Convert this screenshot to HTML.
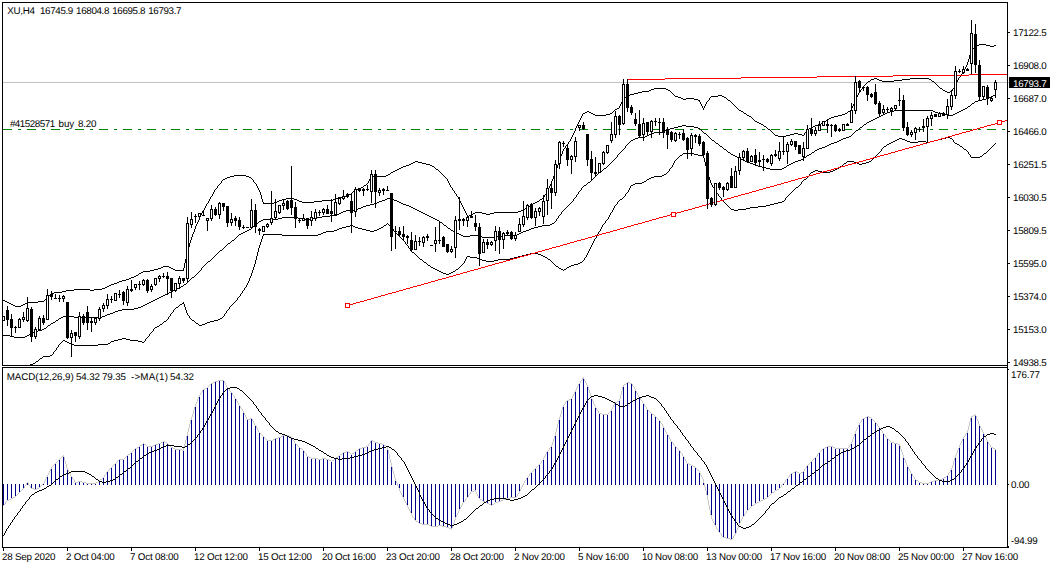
<!DOCTYPE html>
<html><head><meta charset="utf-8"><title>XU,H4</title>
<style>
html,body{margin:0;padding:0;background:#fff;}
body{width:1053px;height:568px;position:relative;overflow:hidden;font-family:"Liberation Sans",sans-serif;}
.t{position:absolute;font-size:9.8px;line-height:11px;height:11px;white-space:nowrap;color:#000;letter-spacing:-0.2px;text-rendering:geometricPrecision;}
</style></head><body>
<svg width="1053" height="568" viewBox="0 0 1053 568" shape-rendering="crispEdges" style="position:absolute;left:0;top:0">
<defs><clipPath id="cm"><rect x="3" y="3" width="1004" height="362"/></clipPath><clipPath id="cs"><rect x="3" y="368" width="1004" height="179"/></clipPath></defs>
<g clip-path="url(#cm)">
<rect x="3" y="82" width="1006" height="1" fill="#c0c0c0"/>
<path d="M3 129.5H1007" stroke="#008000" stroke-width="1" stroke-dasharray="9 6 3 6" fill="none"/>
<path d="M979 44h7v1h-7zM977 45h2v1h-2zM986 45h4v1h-4zM994 45h2v1h-2zM975 46h2v1h-2zM990 46h4v1h-4zM974 47h1v1h-1zM973 48h1v1h-1zM972 49h1v1h-1zM971 50h1v2h-1zM970 52h1v3h-1zM969 55h1v4h-1zM968 59h1v3h-1zM967 62h1v3h-1zM966 65h1v2h-1zM965 67h1v2h-1zM964 69h1v2h-1zM963 71h1v2h-1zM962 73h1v1h-1zM961 74h1v2h-1zM960 76h1v1h-1zM959 77h1v1h-1zM874 78h3v1h-3zM910 78h19v1h-19zM958 78h1v2h-1zM871 79h3v1h-3zM877 79h2v1h-2zM902 79h8v1h-8zM929 79h2v1h-2zM870 80h1v1h-1zM879 80h3v1h-3zM894 80h8v1h-8zM931 80h1v1h-1zM957 80h1v2h-1zM868 81h2v1h-2zM882 81h12v1h-12zM932 81h2v1h-2zM867 82h1v1h-1zM934 82h1v1h-1zM956 82h1v2h-1zM866 83h1v1h-1zM935 83h1v1h-1zM865 84h1v1h-1zM936 84h1v1h-1zM955 84h1v2h-1zM864 85h1v1h-1zM937 85h1v1h-1zM863 86h1v1h-1zM938 86h1v1h-1zM954 86h1v2h-1zM939 87h1v1h-1zM862 87h1v2h-1zM654 88h12v1h-12zM940 88h2v1h-2zM953 88h1v1h-1zM651 89h3v1h-3zM666 89h2v1h-2zM861 89h1v1h-1zM942 89h1v1h-1zM952 89h1v2h-1zM649 90h2v1h-2zM668 90h2v1h-2zM943 90h2v1h-2zM860 90h1v2h-1zM642 91h7v1h-7zM670 91h1v1h-1zM945 91h2v1h-2zM950 91h2v1h-2zM638 92h4v1h-4zM671 92h1v1h-1zM859 92h1v1h-1zM947 92h3v1h-3zM634 93h4v1h-4zM672 93h1v1h-1zM858 93h1v2h-1zM630 94h4v1h-4zM673 94h1v1h-1zM627 95h3v1h-3zM674 95h1v1h-1zM718 95h4v1h-4zM857 95h1v2h-1zM626 96h1v1h-1zM675 96h3v1h-3zM711 96h7v1h-7zM722 96h2v1h-2zM625 97h1v1h-1zM678 97h3v1h-3zM710 97h1v1h-1zM724 97h2v1h-2zM856 97h1v2h-1zM624 98h1v1h-1zM681 98h2v1h-2zM686 98h8v1h-8zM726 98h1v1h-1zM709 98h1v2h-1zM623 99h1v1h-1zM683 99h3v1h-3zM694 99h4v1h-4zM727 99h1v1h-1zM855 99h1v3h-1zM698 100h1v1h-1zM708 100h1v1h-1zM728 100h2v1h-2zM622 100h1v2h-1zM699 100h1v2h-1zM707 101h1v1h-1zM730 101h1v1h-1zM731 102h1v1h-1zM621 102h1v2h-1zM700 102h1v2h-1zM706 102h1v2h-1zM854 102h1v2h-1zM732 103h1v1h-1zM733 104h1v1h-1zM620 104h1v2h-1zM701 104h1v2h-1zM705 104h1v2h-1zM853 104h1v2h-1zM734 105h1v1h-1zM735 106h1v1h-1zM619 106h1v2h-1zM702 106h1v2h-1zM704 106h1v2h-1zM852 106h1v2h-1zM736 107h1v1h-1zM617 108h2v1h-2zM737 108h1v1h-1zM703 108h1v2h-1zM851 108h1v2h-1zM615 109h2v1h-2zM738 109h1v1h-1zM614 110h1v1h-1zM739 110h2v1h-2zM850 110h1v1h-1zM587 111h2v1h-2zM613 111h1v1h-1zM741 111h2v1h-2zM848 111h2v1h-2zM585 112h2v1h-2zM589 112h2v1h-2zM612 112h1v1h-1zM743 112h1v1h-1zM847 112h1v1h-1zM583 113h2v1h-2zM591 113h2v1h-2zM610 113h2v1h-2zM744 113h2v1h-2zM845 113h2v1h-2zM593 114h2v1h-2zM606 114h4v1h-4zM746 114h1v1h-1zM842 114h3v1h-3zM582 114h1v2h-1zM595 115h11v1h-11zM747 115h2v1h-2zM838 115h4v1h-4zM749 116h2v1h-2zM834 116h4v1h-4zM581 116h1v2h-1zM751 117h1v1h-1zM831 117h3v1h-3zM752 118h1v1h-1zM829 118h2v1h-2zM580 118h1v2h-1zM753 119h1v1h-1zM827 119h2v1h-2zM754 120h1v1h-1zM826 120h1v1h-1zM579 120h1v2h-1zM755 121h2v1h-2zM824 121h2v1h-2zM757 122h2v1h-2zM823 122h1v1h-1zM578 122h1v2h-1zM759 123h2v1h-2zM821 123h2v1h-2zM761 124h2v1h-2zM818 124h3v1h-3zM577 124h1v2h-1zM763 125h1v1h-1zM815 125h3v1h-3zM764 126h2v1h-2zM813 126h2v1h-2zM576 126h1v2h-1zM766 127h1v1h-1zM811 127h2v1h-2zM767 128h1v1h-1zM809 128h2v1h-2zM575 128h1v3h-1zM768 129h2v1h-2zM807 129h2v1h-2zM770 130h1v1h-1zM806 130h1v2h-1zM771 131h1v1h-1zM574 131h1v2h-1zM772 132h1v1h-1zM805 132h1v1h-1zM773 133h1v1h-1zM794 133h4v1h-4zM573 133h1v2h-1zM804 133h1v2h-1zM774 134h1v1h-1zM790 134h4v1h-4zM798 134h4v1h-4zM775 135h3v1h-3zM786 135h4v1h-4zM802 135h2v1h-2zM572 135h1v2h-1zM778 136h8v1h-8zM571 137h1v2h-1zM570 139h1v2h-1zM569 141h1v1h-1zM568 142h1v2h-1zM567 144h1v1h-1zM566 145h1v1h-1zM565 146h1v2h-1zM564 148h1v1h-1zM563 149h1v2h-1zM562 151h1v3h-1zM561 154h1v2h-1zM560 156h1v3h-1zM559 159h1v3h-1zM415 161h3v1h-3zM413 162h2v1h-2zM418 162h4v1h-4zM558 162h1v3h-1zM411 163h2v1h-2zM422 163h4v1h-4zM409 164h2v1h-2zM426 164h4v1h-4zM406 165h3v1h-3zM430 165h2v1h-2zM557 165h1v3h-1zM403 166h3v1h-3zM432 166h2v1h-2zM401 167h2v1h-2zM434 167h1v1h-1zM399 168h2v1h-2zM435 168h1v1h-1zM556 168h1v3h-1zM397 169h2v1h-2zM436 169h2v1h-2zM395 170h2v1h-2zM438 170h1v1h-1zM393 171h2v1h-2zM439 171h1v1h-1zM555 171h1v3h-1zM391 172h2v1h-2zM440 172h1v1h-1zM390 173h1v1h-1zM441 173h1v1h-1zM388 174h2v1h-2zM442 174h1v1h-1zM554 174h1v2h-1zM234 175h12v1h-12zM386 175h2v1h-2zM443 175h1v1h-1zM230 176h4v1h-4zM246 176h3v1h-3zM371 176h15v1h-15zM444 176h1v1h-1zM553 176h1v3h-1zM227 177h3v1h-3zM249 177h2v1h-2zM445 177h1v1h-1zM370 177h1v2h-1zM225 178h2v1h-2zM251 178h1v1h-1zM446 178h1v1h-1zM223 179h2v1h-2zM252 179h1v1h-1zM369 179h1v2h-1zM447 179h1v2h-1zM552 179h1v2h-1zM222 180h1v1h-1zM253 180h1v2h-1zM221 181h1v2h-1zM368 181h1v2h-1zM448 181h1v2h-1zM551 181h1v3h-1zM254 182h1v1h-1zM220 183h1v1h-1zM255 183h1v1h-1zM367 183h1v1h-1zM449 183h1v2h-1zM219 184h1v1h-1zM366 184h1v1h-1zM256 184h1v2h-1zM550 184h1v2h-1zM218 185h1v1h-1zM364 185h2v1h-2zM450 185h1v2h-1zM363 186h1v1h-1zM217 186h1v2h-1zM257 186h1v2h-1zM549 186h1v2h-1zM361 187h2v1h-2zM451 187h1v1h-1zM216 188h1v1h-1zM358 188h3v1h-3zM258 188h1v2h-1zM452 188h1v2h-1zM548 188h1v2h-1zM215 189h1v1h-1zM355 189h3v1h-3zM354 190h1v1h-1zM453 190h1v1h-1zM214 190h1v2h-1zM259 190h1v2h-1zM547 190h1v2h-1zM353 191h1v1h-1zM454 191h1v2h-1zM352 192h1v1h-1zM213 192h1v2h-1zM546 192h1v2h-1zM260 192h1v3h-1zM351 193h1v1h-1zM455 193h1v1h-1zM349 194h2v1h-2zM545 194h1v1h-1zM212 194h1v2h-1zM456 194h1v2h-1zM346 195h3v1h-3zM544 195h1v2h-1zM261 195h1v4h-1zM211 196h1v1h-1zM342 196h4v1h-4zM457 196h1v1h-1zM338 197h4v1h-4zM543 197h1v1h-1zM210 197h1v2h-1zM458 197h1v2h-1zM286 198h8v1h-8zM335 198h3v1h-3zM542 198h1v1h-1zM282 199h4v1h-4zM294 199h3v1h-3zM333 199h2v1h-2zM540 199h2v1h-2zM209 199h1v2h-1zM459 199h1v2h-1zM262 199h1v3h-1zM279 200h3v1h-3zM297 200h2v1h-2zM322 200h11v1h-11zM539 200h1v1h-1zM277 201h2v1h-2zM299 201h3v1h-3zM314 201h8v1h-8zM537 201h2v1h-2zM208 201h1v2h-1zM460 201h1v2h-1zM274 202h3v1h-3zM302 202h12v1h-12zM535 202h2v1h-2zM263 202h1v2h-1zM207 203h1v1h-1zM264 203h10v1h-10zM533 203h2v1h-2zM461 203h1v2h-1zM531 204h2v1h-2zM206 204h1v2h-1zM530 205h1v1h-1zM462 205h1v2h-1zM528 206h2v1h-2zM205 206h1v2h-1zM527 207h1v1h-1zM463 207h1v2h-1zM525 208h2v1h-2zM204 208h1v2h-1zM523 209h2v1h-2zM464 209h1v2h-1zM203 210h1v1h-1zM521 210h2v1h-2zM518 211h3v1h-3zM202 211h1v2h-1zM465 211h1v2h-1zM475 212h7v1h-7zM494 212h24v1h-24zM473 213h2v1h-2zM482 213h4v1h-4zM490 213h4v1h-4zM201 213h1v2h-1zM466 213h1v2h-1zM471 214h2v1h-2zM486 214h4v1h-4zM469 215h2v1h-2zM200 215h1v2h-1zM467 215h1v2h-1zM468 216h1v1h-1zM199 217h1v3h-1zM198 220h1v2h-1zM197 222h1v2h-1zM196 224h1v2h-1zM195 226h1v3h-1zM194 229h1v3h-1zM193 232h1v2h-1zM192 234h1v3h-1zM191 237h1v3h-1zM190 240h1v3h-1zM189 243h1v4h-1zM188 247h1v3h-1zM187 250h1v4h-1zM186 254h1v5h-1zM185 259h1v4h-1zM184 263h1v5h-1zM163 266h6v1h-6zM161 267h2v1h-2zM169 267h2v1h-2zM158 268h3v1h-3zM171 268h2v1h-2zM183 268h1v3h-1zM154 269h4v1h-4zM173 269h2v1h-2zM150 270h4v1h-4zM175 270h8v1h-8zM143 271h7v1h-7zM141 272h2v1h-2zM139 273h2v1h-2zM138 274h1v1h-1zM136 275h2v1h-2zM134 276h2v1h-2zM131 277h3v1h-3zM129 278h2v1h-2zM126 279h3v1h-3zM122 280h4v1h-4zM119 281h3v1h-3zM117 282h2v1h-2zM114 283h3v1h-3zM111 284h3v1h-3zM109 285h2v1h-2zM107 286h2v1h-2zM105 287h2v1h-2zM102 288h3v1h-3zM74 289h16v1h-16zM94 289h8v1h-8zM66 290h8v1h-8zM90 290h4v1h-4zM62 291h4v1h-4zM54 292h8v1h-8zM51 293h3v1h-3zM50 294h1v1h-1zM49 295h1v1h-1zM48 296h1v1h-1zM47 297h1v1h-1zM46 298h1v1h-1zM45 299h1v1h-1zM-1 300h6v1h-6zM44 300h1v1h-1zM5 301h2v1h-2zM38 301h6v1h-6zM7 302h2v1h-2zM27 302h11v1h-11zM9 303h2v1h-2zM25 303h2v1h-2zM11 304h2v1h-2zM23 304h2v1h-2zM13 305h2v1h-2zM21 305h2v1h-2zM15 306h6v1h-6z" fill="#000"/>
<path d="M995 94h1v1h-1zM993 95h2v1h-2zM991 96h2v1h-2zM989 97h2v1h-2zM986 98h3v1h-3zM982 99h4v1h-4zM978 100h4v1h-4zM975 101h3v1h-3zM974 102h1v1h-1zM972 103h2v1h-2zM971 104h1v1h-1zM970 105h1v1h-1zM968 106h2v1h-2zM967 107h1v1h-1zM965 108h2v1h-2zM963 109h2v1h-2zM894 110h39v1h-39zM961 110h2v1h-2zM890 111h4v1h-4zM933 111h2v1h-2zM959 111h2v1h-2zM887 112h3v1h-3zM935 112h3v1h-3zM957 112h2v1h-2zM885 113h2v1h-2zM938 113h7v1h-7zM955 113h2v1h-2zM883 114h2v1h-2zM945 114h2v1h-2zM953 114h2v1h-2zM881 115h2v1h-2zM947 115h6v1h-6zM879 116h2v1h-2zM877 117h2v1h-2zM875 118h2v1h-2zM873 119h2v1h-2zM871 120h2v1h-2zM869 121h2v1h-2zM867 122h2v1h-2zM866 123h1v1h-1zM864 124h2v1h-2zM682 125h4v1h-4zM863 125h1v1h-1zM678 126h4v1h-4zM686 126h8v1h-8zM862 126h1v1h-1zM674 127h4v1h-4zM694 127h4v1h-4zM860 127h2v1h-2zM670 128h4v1h-4zM698 128h2v1h-2zM859 128h1v1h-1zM667 129h3v1h-3zM700 129h1v1h-1zM858 129h1v1h-1zM665 130h2v1h-2zM701 130h1v1h-1zM856 130h2v1h-2zM662 131h3v1h-3zM702 131h1v1h-1zM855 131h1v1h-1zM654 132h8v1h-8zM703 132h1v1h-1zM854 132h1v1h-1zM651 133h3v1h-3zM704 133h2v1h-2zM853 133h1v1h-1zM649 134h2v1h-2zM706 134h1v1h-1zM852 134h1v1h-1zM647 135h2v1h-2zM707 135h1v1h-1zM851 135h1v1h-1zM645 136h2v1h-2zM708 136h1v1h-1zM849 136h2v1h-2zM638 137h7v1h-7zM709 137h1v1h-1zM846 137h3v1h-3zM635 138h3v1h-3zM710 138h1v1h-1zM843 138h3v1h-3zM633 139h2v1h-2zM711 139h1v1h-1zM841 139h2v1h-2zM631 140h2v1h-2zM712 140h2v1h-2zM839 140h2v1h-2zM630 141h1v1h-1zM714 141h1v1h-1zM837 141h2v1h-2zM629 142h1v1h-1zM715 142h1v1h-1zM834 142h3v1h-3zM628 143h1v1h-1zM716 143h2v1h-2zM831 143h3v1h-3zM627 144h1v1h-1zM718 144h1v1h-1zM829 144h2v1h-2zM626 145h1v1h-1zM719 145h1v1h-1zM827 145h2v1h-2zM720 146h2v1h-2zM825 146h2v1h-2zM625 146h1v2h-1zM722 147h1v1h-1zM822 147h3v1h-3zM624 148h1v1h-1zM723 148h1v1h-1zM819 148h3v1h-3zM623 149h1v1h-1zM724 149h2v1h-2zM817 149h2v1h-2zM622 150h1v1h-1zM726 150h1v1h-1zM815 150h2v1h-2zM621 151h1v1h-1zM727 151h1v1h-1zM814 151h1v1h-1zM620 152h1v1h-1zM728 152h2v1h-2zM812 152h2v1h-2zM619 153h1v1h-1zM730 153h1v1h-1zM811 153h1v1h-1zM618 154h1v1h-1zM731 154h2v1h-2zM809 154h2v1h-2zM733 155h2v1h-2zM807 155h2v1h-2zM617 155h1v2h-1zM735 156h2v1h-2zM806 156h1v1h-1zM616 157h1v1h-1zM737 157h2v1h-2zM804 157h2v1h-2zM615 158h1v1h-1zM739 158h2v1h-2zM803 158h1v1h-1zM614 159h1v1h-1zM741 159h2v1h-2zM801 159h2v1h-2zM613 160h1v1h-1zM743 160h2v1h-2zM798 160h3v1h-3zM612 161h1v1h-1zM745 161h2v1h-2zM795 161h3v1h-3zM611 162h1v1h-1zM747 162h3v1h-3zM793 162h2v1h-2zM610 163h1v1h-1zM750 163h3v1h-3zM791 163h2v1h-2zM609 164h1v1h-1zM753 164h2v1h-2zM789 164h2v1h-2zM608 165h1v1h-1zM755 165h3v1h-3zM787 165h2v1h-2zM607 166h1v1h-1zM758 166h4v1h-4zM786 166h1v1h-1zM606 167h1v1h-1zM762 167h4v1h-4zM784 167h2v1h-2zM604 168h2v1h-2zM766 168h4v1h-4zM782 168h2v1h-2zM603 169h1v1h-1zM770 169h12v1h-12zM602 170h1v1h-1zM600 171h2v1h-2zM599 172h1v1h-1zM598 173h1v1h-1zM597 174h1v1h-1zM596 175h1v1h-1zM595 176h1v1h-1zM594 177h1v1h-1zM593 178h1v1h-1zM592 179h1v1h-1zM591 180h1v1h-1zM590 181h1v1h-1zM588 182h2v1h-2zM587 183h1v1h-1zM586 184h1v1h-1zM584 185h2v1h-2zM583 186h1v1h-1zM582 187h1v1h-1zM581 188h1v2h-1zM580 190h1v1h-1zM579 191h1v1h-1zM578 192h1v2h-1zM577 194h1v1h-1zM576 195h1v2h-1zM575 197h1v1h-1zM387 198h3v1h-3zM574 198h1v1h-1zM385 199h2v1h-2zM390 199h4v1h-4zM573 199h1v2h-1zM382 200h3v1h-3zM394 200h3v1h-3zM379 201h3v1h-3zM397 201h2v1h-2zM572 201h1v1h-1zM377 202h2v1h-2zM399 202h2v1h-2zM571 202h1v1h-1zM374 203h3v1h-3zM401 203h2v1h-2zM570 203h1v1h-1zM370 204h4v1h-4zM403 204h3v1h-3zM569 204h1v1h-1zM366 205h4v1h-4zM406 205h3v1h-3zM568 205h1v1h-1zM363 206h3v1h-3zM409 206h2v1h-2zM567 206h1v1h-1zM361 207h2v1h-2zM411 207h2v1h-2zM566 207h1v1h-1zM358 208h3v1h-3zM413 208h2v1h-2zM565 208h1v1h-1zM354 209h4v1h-4zM415 209h2v1h-2zM564 209h1v1h-1zM346 210h8v1h-8zM417 210h2v1h-2zM563 210h1v1h-1zM343 211h3v1h-3zM419 211h2v1h-2zM562 211h1v1h-1zM341 212h2v1h-2zM421 212h2v1h-2zM561 212h1v2h-1zM339 213h2v1h-2zM423 213h2v1h-2zM337 214h2v1h-2zM425 214h2v1h-2zM560 214h1v1h-1zM330 215h7v1h-7zM427 215h2v1h-2zM559 215h1v1h-1zM322 216h8v1h-8zM429 216h2v1h-2zM558 216h1v2h-1zM282 217h16v1h-16zM314 217h8v1h-8zM431 217h2v1h-2zM278 218h4v1h-4zM298 218h4v1h-4zM310 218h4v1h-4zM433 218h2v1h-2zM557 218h1v1h-1zM263 219h15v1h-15zM302 219h8v1h-8zM435 219h2v1h-2zM556 219h1v2h-1zM261 220h2v1h-2zM437 220h2v1h-2zM259 221h2v1h-2zM439 221h1v1h-1zM555 221h1v1h-1zM258 222h1v1h-1zM440 222h2v1h-2zM554 222h1v1h-1zM256 223h2v1h-2zM442 223h1v1h-1zM552 223h2v1h-2zM255 224h1v1h-1zM443 224h1v1h-1zM550 224h2v1h-2zM254 225h1v1h-1zM444 225h2v1h-2zM542 225h8v1h-8zM253 226h1v1h-1zM446 226h1v1h-1zM538 226h4v1h-4zM252 227h1v1h-1zM447 227h1v1h-1zM534 227h4v1h-4zM251 228h1v1h-1zM448 228h2v1h-2zM531 228h3v1h-3zM249 229h2v1h-2zM450 229h1v1h-1zM529 229h2v1h-2zM247 230h2v1h-2zM451 230h2v1h-2zM526 230h3v1h-3zM245 231h2v1h-2zM453 231h2v1h-2zM523 231h3v1h-3zM243 232h2v1h-2zM455 232h2v1h-2zM521 232h2v1h-2zM241 233h2v1h-2zM457 233h2v1h-2zM519 233h2v1h-2zM239 234h2v1h-2zM459 234h2v1h-2zM517 234h2v1h-2zM238 235h1v1h-1zM461 235h2v1h-2zM470 235h8v1h-8zM502 235h15v1h-15zM237 236h1v1h-1zM463 236h7v1h-7zM478 236h4v1h-4zM494 236h8v1h-8zM236 237h1v1h-1zM482 237h12v1h-12zM235 238h1v1h-1zM234 239h1v1h-1zM232 240h2v1h-2zM231 241h1v1h-1zM230 242h1v1h-1zM228 243h2v1h-2zM227 244h1v1h-1zM226 245h1v1h-1zM225 246h1v1h-1zM224 247h1v1h-1zM223 248h1v1h-1zM222 249h1v1h-1zM220 250h2v1h-2zM219 251h1v1h-1zM218 252h1v1h-1zM217 253h1v1h-1zM216 254h1v1h-1zM215 255h1v1h-1zM214 256h1v1h-1zM213 257h1v1h-1zM212 258h1v1h-1zM211 259h1v1h-1zM210 260h1v1h-1zM208 261h2v1h-2zM207 262h1v1h-1zM206 263h1v1h-1zM205 264h1v1h-1zM204 265h1v1h-1zM203 266h1v1h-1zM202 267h1v1h-1zM201 268h1v2h-1zM200 270h1v1h-1zM199 271h1v1h-1zM198 272h1v1h-1zM197 273h1v1h-1zM196 274h1v1h-1zM195 275h1v1h-1zM194 276h1v1h-1zM192 277h2v1h-2zM191 278h1v1h-1zM190 279h1v1h-1zM189 280h1v1h-1zM188 281h1v1h-1zM187 282h1v1h-1zM186 283h1v1h-1zM184 284h2v1h-2zM183 285h1v1h-1zM181 286h2v1h-2zM179 287h2v1h-2zM177 288h2v1h-2zM175 289h2v1h-2zM173 290h2v1h-2zM171 291h2v1h-2zM169 292h2v1h-2zM167 293h2v1h-2zM165 294h2v1h-2zM163 295h2v1h-2zM161 296h2v1h-2zM159 297h2v1h-2zM157 298h2v1h-2zM155 299h2v1h-2zM153 300h2v1h-2zM151 301h2v1h-2zM149 302h2v1h-2zM147 303h2v1h-2zM145 304h2v1h-2zM143 305h2v1h-2zM141 306h2v1h-2zM138 307h3v1h-3zM134 308h4v1h-4zM122 309h12v1h-12zM118 310h4v1h-4zM115 311h3v1h-3zM113 312h2v1h-2zM110 313h3v1h-3zM107 314h3v1h-3zM105 315h2v1h-2zM63 316h11v1h-11zM102 316h3v1h-3zM61 317h2v1h-2zM74 317h28v1h-28zM59 318h2v1h-2zM58 319h1v1h-1zM56 320h2v1h-2zM55 321h1v1h-1zM53 322h2v1h-2zM51 323h2v1h-2zM50 324h1v1h-1zM48 325h2v1h-2zM47 326h1v1h-1zM46 327h1v1h-1zM44 328h2v1h-2zM42 329h2v1h-2zM38 330h4v1h-4zM35 331h3v1h-3zM33 332h2v1h-2zM31 333h2v1h-2zM29 334h2v1h-2zM-1 335h11v1h-11zM27 335h2v1h-2zM10 336h4v1h-4zM25 336h2v1h-2zM14 337h11v1h-11z" fill="#000"/>
<path d="M946 137h4v1h-4zM899 138h3v1h-3zM942 138h4v1h-4zM950 138h2v1h-2zM897 139h2v1h-2zM902 139h3v1h-3zM938 139h4v1h-4zM952 139h1v1h-1zM895 140h2v1h-2zM905 140h2v1h-2zM934 140h4v1h-4zM953 140h1v2h-1zM893 141h2v1h-2zM907 141h3v1h-3zM918 141h8v1h-8zM930 141h4v1h-4zM891 142h2v1h-2zM910 142h8v1h-8zM926 142h4v1h-4zM954 142h1v1h-1zM889 143h2v1h-2zM955 143h2v1h-2zM995 143h1v1h-1zM887 144h2v1h-2zM957 144h2v1h-2zM994 144h1v1h-1zM886 145h1v1h-1zM959 145h1v1h-1zM993 145h1v1h-1zM884 146h2v1h-2zM960 146h2v1h-2zM992 146h1v1h-1zM883 147h1v1h-1zM962 147h1v1h-1zM991 147h1v1h-1zM882 148h1v1h-1zM963 148h1v1h-1zM990 148h1v1h-1zM964 149h2v1h-2zM989 149h1v1h-1zM881 149h1v2h-1zM966 150h1v1h-1zM988 150h1v1h-1zM880 151h1v1h-1zM967 151h1v1h-1zM987 151h1v1h-1zM879 152h1v1h-1zM986 152h1v1h-1zM968 152h1v2h-1zM683 153h11v1h-11zM878 153h1v1h-1zM984 153h2v1h-2zM682 154h1v1h-1zM694 154h4v1h-4zM877 154h1v1h-1zM969 154h1v1h-1zM983 154h1v1h-1zM680 155h2v1h-2zM698 155h5v1h-5zM876 155h1v1h-1zM982 155h1v1h-1zM970 155h1v2h-1zM703 155h1v3h-1zM679 156h1v1h-1zM875 156h1v1h-1zM980 156h2v1h-2zM678 157h1v1h-1zM874 157h1v1h-1zM971 157h9v1h-9zM677 158h1v1h-1zM873 158h1v1h-1zM704 158h1v4h-1zM676 159h1v1h-1zM872 159h1v1h-1zM675 160h1v1h-1zM871 160h1v1h-1zM847 161h7v1h-7zM869 161h2v1h-2zM674 161h1v2h-1zM846 162h1v1h-1zM854 162h3v1h-3zM866 162h3v1h-3zM705 162h1v4h-1zM844 163h2v1h-2zM857 163h2v1h-2zM862 163h4v1h-4zM673 163h1v2h-1zM843 164h1v1h-1zM859 164h3v1h-3zM842 165h1v1h-1zM672 165h1v2h-1zM840 166h2v1h-2zM706 166h1v4h-1zM671 167h1v1h-1zM839 167h1v1h-1zM670 168h1v1h-1zM837 168h2v1h-2zM835 169h2v1h-2zM669 169h1v2h-1zM815 170h3v1h-3zM833 170h2v1h-2zM707 170h1v4h-1zM668 171h1v1h-1zM813 171h2v1h-2zM818 171h4v1h-4zM830 171h3v1h-3zM667 172h1v1h-1zM811 172h2v1h-2zM822 172h8v1h-8zM666 173h1v1h-1zM810 173h1v1h-1zM664 174h2v1h-2zM809 174h1v2h-1zM708 174h1v3h-1zM662 175h2v1h-2zM654 176h8v1h-8zM808 176h1v1h-1zM651 177h3v1h-3zM807 177h1v1h-1zM709 177h1v3h-1zM649 178h2v1h-2zM806 178h1v1h-1zM647 179h2v1h-2zM804 179h2v1h-2zM646 180h1v1h-1zM803 180h1v1h-1zM710 180h1v3h-1zM644 181h2v1h-2zM802 181h1v1h-1zM642 182h2v1h-2zM801 182h1v2h-1zM635 183h7v1h-7zM711 183h1v2h-1zM633 184h2v1h-2zM800 184h1v1h-1zM631 185h2v1h-2zM799 185h1v1h-1zM712 185h1v2h-1zM798 186h1v1h-1zM630 186h1v2h-1zM713 187h1v1h-1zM796 187h2v1h-2zM795 188h1v1h-1zM629 188h1v2h-1zM714 188h1v2h-1zM794 189h1v1h-1zM715 190h1v1h-1zM793 190h1v1h-1zM628 190h1v2h-1zM792 191h1v1h-1zM716 191h1v2h-1zM627 192h1v1h-1zM791 192h1v1h-1zM626 193h1v1h-1zM717 193h1v1h-1zM790 193h1v1h-1zM789 194h1v1h-1zM625 194h1v2h-1zM718 194h1v2h-1zM788 195h1v1h-1zM624 196h1v1h-1zM719 196h1v1h-1zM787 196h1v1h-1zM623 197h1v1h-1zM720 197h1v1h-1zM786 197h1v1h-1zM622 198h1v1h-1zM721 198h1v2h-1zM785 198h1v2h-1zM620 199h2v1h-2zM619 200h1v1h-1zM722 200h1v1h-1zM784 200h1v1h-1zM618 201h1v1h-1zM723 201h1v1h-1zM782 201h2v1h-2zM724 202h1v1h-1zM778 202h4v1h-4zM617 202h1v2h-1zM725 203h1v1h-1zM774 203h4v1h-4zM616 204h1v1h-1zM726 204h1v1h-1zM770 204h4v1h-4zM615 205h1v1h-1zM727 205h1v1h-1zM766 205h4v1h-4zM728 206h1v1h-1zM758 206h8v1h-8zM614 206h1v2h-1zM729 207h1v1h-1zM750 207h8v1h-8zM730 208h1v1h-1zM746 208h4v1h-4zM613 208h1v2h-1zM731 209h3v1h-3zM738 209h8v1h-8zM734 210h4v1h-4zM612 210h1v2h-1zM611 212h1v1h-1zM610 213h1v2h-1zM609 215h1v2h-1zM608 217h1v2h-1zM607 219h1v1h-1zM606 220h1v1h-1zM605 221h1v2h-1zM387 223h1v1h-1zM604 223h1v1h-1zM386 224h1v1h-1zM388 224h1v1h-1zM603 224h1v1h-1zM350 225h3v1h-3zM384 225h2v1h-2zM389 225h1v1h-1zM602 225h1v2h-1zM346 226h4v1h-4zM353 226h2v1h-2zM383 226h1v1h-1zM390 226h1v1h-1zM342 227h4v1h-4zM355 227h3v1h-3zM381 227h2v1h-2zM391 227h1v1h-1zM601 227h1v2h-1zM339 228h3v1h-3zM358 228h4v1h-4zM379 228h2v1h-2zM392 228h1v1h-1zM337 229h2v1h-2zM362 229h4v1h-4zM377 229h2v1h-2zM393 229h1v2h-1zM600 229h1v2h-1zM334 230h3v1h-3zM366 230h4v1h-4zM374 230h3v1h-3zM326 231h8v1h-8zM370 231h4v1h-4zM394 231h1v1h-1zM599 231h1v1h-1zM323 232h3v1h-3zM395 232h1v1h-1zM598 232h1v2h-1zM321 233h2v1h-2zM396 233h1v1h-1zM264 234h18v1h-18zM318 234h3v1h-3zM397 234h1v1h-1zM263 234h1v2h-1zM597 234h1v2h-1zM282 235h36v1h-36zM398 235h1v1h-1zM399 236h1v1h-1zM596 236h1v2h-1zM262 236h1v3h-1zM400 237h1v1h-1zM401 238h1v1h-1zM595 238h1v1h-1zM402 239h1v1h-1zM594 239h1v2h-1zM261 239h1v3h-1zM403 240h1v1h-1zM404 241h1v1h-1zM593 241h1v2h-1zM405 242h1v2h-1zM260 242h1v3h-1zM592 243h1v2h-1zM406 244h1v1h-1zM407 245h1v1h-1zM591 245h1v2h-1zM259 245h1v3h-1zM408 246h1v2h-1zM590 247h1v2h-1zM409 248h1v1h-1zM258 248h1v4h-1zM410 249h1v2h-1zM589 249h1v2h-1zM411 251h1v1h-1zM588 251h1v2h-1zM412 252h2v1h-2zM257 252h1v4h-1zM414 253h1v1h-1zM530 253h8v1h-8zM587 253h1v2h-1zM415 254h1v1h-1zM526 254h4v1h-4zM538 254h3v1h-3zM416 255h1v1h-1zM522 255h4v1h-4zM541 255h2v1h-2zM586 255h1v2h-1zM417 256h1v1h-1zM467 256h3v1h-3zM518 256h4v1h-4zM543 256h2v1h-2zM256 256h1v4h-1zM418 257h1v1h-1zM470 257h7v1h-7zM514 257h4v1h-4zM545 257h2v1h-2zM585 257h1v1h-1zM466 257h1v2h-1zM419 258h1v1h-1zM477 258h2v1h-2zM510 258h4v1h-4zM547 258h1v1h-1zM584 258h1v2h-1zM420 259h2v1h-2zM479 259h3v1h-3zM498 259h12v1h-12zM548 259h2v1h-2zM465 259h1v2h-1zM422 260h1v1h-1zM482 260h4v1h-4zM494 260h4v1h-4zM550 260h1v1h-1zM583 260h1v1h-1zM255 260h1v4h-1zM423 261h1v1h-1zM486 261h8v1h-8zM551 261h1v1h-1zM582 261h1v1h-1zM464 261h1v2h-1zM424 262h2v1h-2zM552 262h1v1h-1zM580 262h2v1h-2zM426 263h1v1h-1zM463 263h1v1h-1zM553 263h1v1h-1zM578 263h2v1h-2zM427 264h1v1h-1zM462 264h1v1h-1zM554 264h1v1h-1zM574 264h4v1h-4zM254 264h1v3h-1zM428 265h2v1h-2zM461 265h1v1h-1zM555 265h1v1h-1zM571 265h3v1h-3zM430 266h1v1h-1zM460 266h1v1h-1zM556 266h2v1h-2zM569 266h2v1h-2zM431 267h2v1h-2zM459 267h1v1h-1zM558 267h1v1h-1zM567 267h2v1h-2zM253 267h1v3h-1zM433 268h2v1h-2zM458 268h1v1h-1zM559 268h2v1h-2zM566 268h1v1h-1zM435 269h2v1h-2zM456 269h2v1h-2zM561 269h2v1h-2zM564 269h2v1h-2zM437 270h2v1h-2zM455 270h1v1h-1zM563 270h1v1h-1zM252 270h1v3h-1zM439 271h2v1h-2zM453 271h2v1h-2zM441 272h2v1h-2zM451 272h2v1h-2zM443 273h3v1h-3zM449 273h2v1h-2zM251 273h1v3h-1zM446 274h3v1h-3zM250 276h1v2h-1zM249 278h1v3h-1zM248 281h1v2h-1zM247 283h1v2h-1zM246 285h1v2h-1zM245 287h1v1h-1zM244 288h1v2h-1zM243 290h1v1h-1zM242 291h1v2h-1zM241 293h1v1h-1zM240 294h1v2h-1zM239 296h1v1h-1zM238 297h1v1h-1zM237 298h1v2h-1zM236 300h1v1h-1zM235 301h1v1h-1zM234 302h1v1h-1zM183 302h1v2h-1zM182 303h1v1h-1zM233 303h1v1h-1zM180 304h2v1h-2zM232 304h1v1h-1zM184 304h1v3h-1zM179 305h1v1h-1zM231 305h1v1h-1zM178 306h1v1h-1zM230 306h1v1h-1zM176 307h2v1h-2zM229 307h1v2h-1zM185 307h1v3h-1zM175 308h1v1h-1zM174 309h1v1h-1zM228 309h1v1h-1zM227 310h1v1h-1zM173 310h1v2h-1zM186 310h1v3h-1zM226 311h1v2h-1zM172 312h1v1h-1zM171 313h1v1h-1zM225 313h1v1h-1zM187 313h1v2h-1zM170 314h1v2h-1zM224 314h1v2h-1zM188 315h1v1h-1zM169 316h1v1h-1zM223 316h1v1h-1zM189 316h1v2h-1zM222 317h1v1h-1zM168 317h1v2h-1zM190 318h1v1h-1zM220 318h2v1h-2zM167 319h1v1h-1zM191 319h1v1h-1zM218 319h2v1h-2zM166 320h1v1h-1zM192 320h2v1h-2zM214 320h4v1h-4zM164 321h2v1h-2zM194 321h1v1h-1zM210 321h4v1h-4zM163 322h1v1h-1zM195 322h1v1h-1zM207 322h3v1h-3zM162 323h1v1h-1zM196 323h2v1h-2zM205 323h2v1h-2zM160 324h2v1h-2zM198 324h1v1h-1zM202 324h3v1h-3zM159 325h1v1h-1zM199 325h3v1h-3zM157 326h2v1h-2zM155 327h2v1h-2zM154 328h1v1h-1zM153 329h1v2h-1zM152 331h1v1h-1zM151 332h1v1h-1zM150 333h1v1h-1zM149 334h1v2h-1zM148 336h1v1h-1zM147 337h1v1h-1zM122 338h4v1h-4zM146 338h1v1h-1zM118 339h4v1h-4zM126 339h4v1h-4zM145 339h1v2h-1zM63 340h2v1h-2zM114 340h4v1h-4zM130 340h8v1h-8zM62 341h1v1h-1zM65 341h2v1h-2zM111 341h3v1h-3zM138 341h4v1h-4zM144 341h1v1h-1zM61 342h1v1h-1zM67 342h2v1h-2zM110 342h1v1h-1zM142 342h2v1h-2zM60 343h1v1h-1zM69 343h2v1h-2zM108 343h2v1h-2zM59 344h1v1h-1zM71 344h3v1h-3zM98 344h10v1h-10zM74 345h24v1h-24zM58 345h1v2h-1zM57 347h1v1h-1zM56 348h1v2h-1zM55 350h1v1h-1zM54 351h1v1h-1zM53 352h1v2h-1zM52 354h1v1h-1zM50 355h2v1h-2zM43 356h7v1h-7zM42 357h1v1h-1zM40 358h2v1h-2zM39 359h1v1h-1zM38 360h1v1h-1zM36 361h2v1h-2zM35 362h1v1h-1zM33 363h2v1h-2zM30 364h3v1h-3zM26 365h4v1h-4zM23 366h3v1h-3zM21 367h2v1h-2zM18 368h3v1h-3zM14 369h4v1h-4zM10 370h4v1h-4zM6 371h4v1h-4zM2 372h4v1h-4zM-1 373h3v1h-3z" fill="#000"/>
<rect x="627" y="79" width="38" height="1" fill="#ff0000"/>
<rect x="665" y="78" width="76" height="1" fill="#ff0000"/>
<rect x="741" y="77" width="76" height="1" fill="#ff0000"/>
<rect x="817" y="76" width="76" height="1" fill="#ff0000"/>
<rect x="893" y="75" width="76" height="1" fill="#ff0000"/>
<rect x="969" y="74" width="38" height="1" fill="#ff0000"/>
<rect x="348" y="305" width="1" height="1" fill="#ff0000"/>
<rect x="349" y="304" width="4" height="1" fill="#ff0000"/>
<rect x="353" y="303" width="3" height="1" fill="#ff0000"/>
<rect x="356" y="302" width="4" height="1" fill="#ff0000"/>
<rect x="360" y="301" width="4" height="1" fill="#ff0000"/>
<rect x="364" y="300" width="3" height="1" fill="#ff0000"/>
<rect x="367" y="299" width="4" height="1" fill="#ff0000"/>
<rect x="371" y="298" width="3" height="1" fill="#ff0000"/>
<rect x="374" y="297" width="4" height="1" fill="#ff0000"/>
<rect x="378" y="296" width="3" height="1" fill="#ff0000"/>
<rect x="381" y="295" width="4" height="1" fill="#ff0000"/>
<rect x="385" y="294" width="3" height="1" fill="#ff0000"/>
<rect x="388" y="293" width="4" height="1" fill="#ff0000"/>
<rect x="392" y="292" width="4" height="1" fill="#ff0000"/>
<rect x="396" y="291" width="3" height="1" fill="#ff0000"/>
<rect x="399" y="290" width="4" height="1" fill="#ff0000"/>
<rect x="403" y="289" width="3" height="1" fill="#ff0000"/>
<rect x="406" y="288" width="4" height="1" fill="#ff0000"/>
<rect x="410" y="287" width="3" height="1" fill="#ff0000"/>
<rect x="413" y="286" width="4" height="1" fill="#ff0000"/>
<rect x="417" y="285" width="4" height="1" fill="#ff0000"/>
<rect x="421" y="284" width="3" height="1" fill="#ff0000"/>
<rect x="424" y="283" width="4" height="1" fill="#ff0000"/>
<rect x="428" y="282" width="3" height="1" fill="#ff0000"/>
<rect x="431" y="281" width="4" height="1" fill="#ff0000"/>
<rect x="435" y="280" width="3" height="1" fill="#ff0000"/>
<rect x="438" y="279" width="4" height="1" fill="#ff0000"/>
<rect x="442" y="278" width="4" height="1" fill="#ff0000"/>
<rect x="446" y="277" width="3" height="1" fill="#ff0000"/>
<rect x="449" y="276" width="4" height="1" fill="#ff0000"/>
<rect x="453" y="275" width="3" height="1" fill="#ff0000"/>
<rect x="456" y="274" width="4" height="1" fill="#ff0000"/>
<rect x="460" y="273" width="3" height="1" fill="#ff0000"/>
<rect x="463" y="272" width="4" height="1" fill="#ff0000"/>
<rect x="467" y="271" width="3" height="1" fill="#ff0000"/>
<rect x="470" y="270" width="4" height="1" fill="#ff0000"/>
<rect x="474" y="269" width="4" height="1" fill="#ff0000"/>
<rect x="478" y="268" width="3" height="1" fill="#ff0000"/>
<rect x="481" y="267" width="4" height="1" fill="#ff0000"/>
<rect x="485" y="266" width="3" height="1" fill="#ff0000"/>
<rect x="488" y="265" width="4" height="1" fill="#ff0000"/>
<rect x="492" y="264" width="3" height="1" fill="#ff0000"/>
<rect x="495" y="263" width="4" height="1" fill="#ff0000"/>
<rect x="499" y="262" width="4" height="1" fill="#ff0000"/>
<rect x="503" y="261" width="3" height="1" fill="#ff0000"/>
<rect x="506" y="260" width="4" height="1" fill="#ff0000"/>
<rect x="510" y="259" width="3" height="1" fill="#ff0000"/>
<rect x="513" y="258" width="4" height="1" fill="#ff0000"/>
<rect x="517" y="257" width="3" height="1" fill="#ff0000"/>
<rect x="520" y="256" width="4" height="1" fill="#ff0000"/>
<rect x="524" y="255" width="4" height="1" fill="#ff0000"/>
<rect x="528" y="254" width="3" height="1" fill="#ff0000"/>
<rect x="531" y="253" width="4" height="1" fill="#ff0000"/>
<rect x="535" y="252" width="3" height="1" fill="#ff0000"/>
<rect x="538" y="251" width="4" height="1" fill="#ff0000"/>
<rect x="542" y="250" width="3" height="1" fill="#ff0000"/>
<rect x="545" y="249" width="4" height="1" fill="#ff0000"/>
<rect x="549" y="248" width="3" height="1" fill="#ff0000"/>
<rect x="552" y="247" width="4" height="1" fill="#ff0000"/>
<rect x="556" y="246" width="4" height="1" fill="#ff0000"/>
<rect x="560" y="245" width="3" height="1" fill="#ff0000"/>
<rect x="563" y="244" width="4" height="1" fill="#ff0000"/>
<rect x="567" y="243" width="3" height="1" fill="#ff0000"/>
<rect x="570" y="242" width="4" height="1" fill="#ff0000"/>
<rect x="574" y="241" width="3" height="1" fill="#ff0000"/>
<rect x="577" y="240" width="4" height="1" fill="#ff0000"/>
<rect x="581" y="239" width="4" height="1" fill="#ff0000"/>
<rect x="585" y="238" width="3" height="1" fill="#ff0000"/>
<rect x="588" y="237" width="4" height="1" fill="#ff0000"/>
<rect x="592" y="236" width="3" height="1" fill="#ff0000"/>
<rect x="595" y="235" width="4" height="1" fill="#ff0000"/>
<rect x="599" y="234" width="3" height="1" fill="#ff0000"/>
<rect x="602" y="233" width="4" height="1" fill="#ff0000"/>
<rect x="606" y="232" width="4" height="1" fill="#ff0000"/>
<rect x="610" y="231" width="3" height="1" fill="#ff0000"/>
<rect x="613" y="230" width="4" height="1" fill="#ff0000"/>
<rect x="617" y="229" width="3" height="1" fill="#ff0000"/>
<rect x="620" y="228" width="4" height="1" fill="#ff0000"/>
<rect x="624" y="227" width="3" height="1" fill="#ff0000"/>
<rect x="627" y="226" width="4" height="1" fill="#ff0000"/>
<rect x="631" y="225" width="3" height="1" fill="#ff0000"/>
<rect x="634" y="224" width="4" height="1" fill="#ff0000"/>
<rect x="638" y="223" width="4" height="1" fill="#ff0000"/>
<rect x="642" y="222" width="3" height="1" fill="#ff0000"/>
<rect x="645" y="221" width="4" height="1" fill="#ff0000"/>
<rect x="649" y="220" width="3" height="1" fill="#ff0000"/>
<rect x="652" y="219" width="4" height="1" fill="#ff0000"/>
<rect x="656" y="218" width="3" height="1" fill="#ff0000"/>
<rect x="659" y="217" width="4" height="1" fill="#ff0000"/>
<rect x="663" y="216" width="4" height="1" fill="#ff0000"/>
<rect x="667" y="215" width="3" height="1" fill="#ff0000"/>
<rect x="670" y="214" width="4" height="1" fill="#ff0000"/>
<rect x="674" y="213" width="3" height="1" fill="#ff0000"/>
<rect x="677" y="212" width="4" height="1" fill="#ff0000"/>
<rect x="681" y="211" width="3" height="1" fill="#ff0000"/>
<rect x="684" y="210" width="4" height="1" fill="#ff0000"/>
<rect x="688" y="209" width="4" height="1" fill="#ff0000"/>
<rect x="692" y="208" width="3" height="1" fill="#ff0000"/>
<rect x="695" y="207" width="4" height="1" fill="#ff0000"/>
<rect x="699" y="206" width="3" height="1" fill="#ff0000"/>
<rect x="702" y="205" width="4" height="1" fill="#ff0000"/>
<rect x="706" y="204" width="3" height="1" fill="#ff0000"/>
<rect x="709" y="203" width="4" height="1" fill="#ff0000"/>
<rect x="713" y="202" width="3" height="1" fill="#ff0000"/>
<rect x="716" y="201" width="4" height="1" fill="#ff0000"/>
<rect x="720" y="200" width="4" height="1" fill="#ff0000"/>
<rect x="724" y="199" width="3" height="1" fill="#ff0000"/>
<rect x="727" y="198" width="4" height="1" fill="#ff0000"/>
<rect x="731" y="197" width="3" height="1" fill="#ff0000"/>
<rect x="734" y="196" width="4" height="1" fill="#ff0000"/>
<rect x="738" y="195" width="3" height="1" fill="#ff0000"/>
<rect x="741" y="194" width="4" height="1" fill="#ff0000"/>
<rect x="745" y="193" width="4" height="1" fill="#ff0000"/>
<rect x="749" y="192" width="3" height="1" fill="#ff0000"/>
<rect x="752" y="191" width="4" height="1" fill="#ff0000"/>
<rect x="756" y="190" width="3" height="1" fill="#ff0000"/>
<rect x="759" y="189" width="4" height="1" fill="#ff0000"/>
<rect x="763" y="188" width="3" height="1" fill="#ff0000"/>
<rect x="766" y="187" width="4" height="1" fill="#ff0000"/>
<rect x="770" y="186" width="4" height="1" fill="#ff0000"/>
<rect x="774" y="185" width="3" height="1" fill="#ff0000"/>
<rect x="777" y="184" width="4" height="1" fill="#ff0000"/>
<rect x="781" y="183" width="3" height="1" fill="#ff0000"/>
<rect x="784" y="182" width="4" height="1" fill="#ff0000"/>
<rect x="788" y="181" width="3" height="1" fill="#ff0000"/>
<rect x="791" y="180" width="4" height="1" fill="#ff0000"/>
<rect x="795" y="179" width="3" height="1" fill="#ff0000"/>
<rect x="798" y="178" width="4" height="1" fill="#ff0000"/>
<rect x="802" y="177" width="4" height="1" fill="#ff0000"/>
<rect x="806" y="176" width="3" height="1" fill="#ff0000"/>
<rect x="809" y="175" width="4" height="1" fill="#ff0000"/>
<rect x="813" y="174" width="3" height="1" fill="#ff0000"/>
<rect x="816" y="173" width="4" height="1" fill="#ff0000"/>
<rect x="820" y="172" width="3" height="1" fill="#ff0000"/>
<rect x="823" y="171" width="4" height="1" fill="#ff0000"/>
<rect x="827" y="170" width="4" height="1" fill="#ff0000"/>
<rect x="831" y="169" width="3" height="1" fill="#ff0000"/>
<rect x="834" y="168" width="4" height="1" fill="#ff0000"/>
<rect x="838" y="167" width="3" height="1" fill="#ff0000"/>
<rect x="841" y="166" width="4" height="1" fill="#ff0000"/>
<rect x="845" y="165" width="3" height="1" fill="#ff0000"/>
<rect x="848" y="164" width="4" height="1" fill="#ff0000"/>
<rect x="852" y="163" width="4" height="1" fill="#ff0000"/>
<rect x="856" y="162" width="3" height="1" fill="#ff0000"/>
<rect x="859" y="161" width="4" height="1" fill="#ff0000"/>
<rect x="863" y="160" width="3" height="1" fill="#ff0000"/>
<rect x="866" y="159" width="4" height="1" fill="#ff0000"/>
<rect x="870" y="158" width="3" height="1" fill="#ff0000"/>
<rect x="873" y="157" width="4" height="1" fill="#ff0000"/>
<rect x="877" y="156" width="3" height="1" fill="#ff0000"/>
<rect x="880" y="155" width="4" height="1" fill="#ff0000"/>
<rect x="884" y="154" width="4" height="1" fill="#ff0000"/>
<rect x="888" y="153" width="3" height="1" fill="#ff0000"/>
<rect x="891" y="152" width="4" height="1" fill="#ff0000"/>
<rect x="895" y="151" width="3" height="1" fill="#ff0000"/>
<rect x="898" y="150" width="4" height="1" fill="#ff0000"/>
<rect x="902" y="149" width="3" height="1" fill="#ff0000"/>
<rect x="905" y="148" width="4" height="1" fill="#ff0000"/>
<rect x="909" y="147" width="4" height="1" fill="#ff0000"/>
<rect x="913" y="146" width="3" height="1" fill="#ff0000"/>
<rect x="916" y="145" width="4" height="1" fill="#ff0000"/>
<rect x="920" y="144" width="3" height="1" fill="#ff0000"/>
<rect x="923" y="143" width="4" height="1" fill="#ff0000"/>
<rect x="927" y="142" width="3" height="1" fill="#ff0000"/>
<rect x="930" y="141" width="4" height="1" fill="#ff0000"/>
<rect x="934" y="140" width="4" height="1" fill="#ff0000"/>
<rect x="938" y="139" width="3" height="1" fill="#ff0000"/>
<rect x="941" y="138" width="4" height="1" fill="#ff0000"/>
<rect x="945" y="137" width="3" height="1" fill="#ff0000"/>
<rect x="948" y="136" width="4" height="1" fill="#ff0000"/>
<rect x="952" y="135" width="3" height="1" fill="#ff0000"/>
<rect x="955" y="134" width="4" height="1" fill="#ff0000"/>
<rect x="959" y="133" width="3" height="1" fill="#ff0000"/>
<rect x="962" y="132" width="4" height="1" fill="#ff0000"/>
<rect x="966" y="131" width="4" height="1" fill="#ff0000"/>
<rect x="970" y="130" width="3" height="1" fill="#ff0000"/>
<rect x="973" y="129" width="4" height="1" fill="#ff0000"/>
<rect x="977" y="128" width="3" height="1" fill="#ff0000"/>
<rect x="980" y="127" width="4" height="1" fill="#ff0000"/>
<rect x="984" y="126" width="3" height="1" fill="#ff0000"/>
<rect x="987" y="125" width="4" height="1" fill="#ff0000"/>
<rect x="991" y="124" width="4" height="1" fill="#ff0000"/>
<rect x="995" y="123" width="3" height="1" fill="#ff0000"/>
<rect x="998" y="122" width="4" height="1" fill="#ff0000"/>
<rect x="1002" y="121" width="3" height="1" fill="#ff0000"/>
<rect x="1005" y="120" width="2" height="1" fill="#ff0000"/>
<rect x="345.5" y="303.5" width="4" height="4" fill="#fff" stroke="#ff0000" stroke-width="1"/>
<rect x="671.5" y="212.5" width="4" height="4" fill="#fff" stroke="#ff0000" stroke-width="1"/>
<rect x="997.5" y="120.5" width="4" height="4" fill="#fff" stroke="#ff0000" stroke-width="1"/>
<rect x="3" y="316" width="1" height="5" fill="#000"/>
<rect x="2" y="316" width="3" height="5" fill="#000"/>
<rect x="3" y="317" width="1" height="3" fill="#fff"/>
<rect x="7" y="306" width="1" height="20" fill="#000"/>
<rect x="6" y="310" width="3" height="10" fill="#000"/>
<rect x="11" y="314" width="1" height="23" fill="#000"/>
<rect x="10" y="319" width="3" height="9" fill="#000"/>
<rect x="15" y="326" width="1" height="7" fill="#000"/>
<rect x="14" y="327" width="3" height="1" fill="#000"/>
<rect x="19" y="318" width="1" height="10" fill="#000"/>
<rect x="18" y="319" width="3" height="9" fill="#000"/>
<rect x="19" y="320" width="1" height="7" fill="#fff"/>
<rect x="23" y="312" width="1" height="10" fill="#000"/>
<rect x="22" y="317" width="3" height="3" fill="#000"/>
<rect x="23" y="318" width="1" height="1" fill="#fff"/>
<rect x="27" y="297" width="1" height="25" fill="#000"/>
<rect x="26" y="308" width="3" height="13" fill="#000"/>
<rect x="27" y="309" width="1" height="11" fill="#fff"/>
<rect x="31" y="307" width="1" height="35" fill="#000"/>
<rect x="30" y="309" width="3" height="28" fill="#000"/>
<rect x="35" y="327" width="1" height="12" fill="#000"/>
<rect x="34" y="329" width="3" height="8" fill="#000"/>
<rect x="35" y="330" width="1" height="6" fill="#fff"/>
<rect x="39" y="316" width="1" height="15" fill="#000"/>
<rect x="38" y="318" width="3" height="12" fill="#000"/>
<rect x="39" y="319" width="1" height="10" fill="#fff"/>
<rect x="43" y="315" width="1" height="10" fill="#000"/>
<rect x="42" y="318" width="3" height="5" fill="#000"/>
<rect x="47" y="289" width="1" height="31" fill="#000"/>
<rect x="46" y="295" width="3" height="25" fill="#000"/>
<rect x="47" y="296" width="1" height="23" fill="#fff"/>
<rect x="51" y="291" width="1" height="9" fill="#000"/>
<rect x="50" y="294" width="3" height="3" fill="#000"/>
<rect x="55" y="294" width="1" height="5" fill="#000"/>
<rect x="54" y="298" width="3" height="1" fill="#000"/>
<rect x="59" y="295" width="1" height="7" fill="#000"/>
<rect x="58" y="298" width="3" height="1" fill="#000"/>
<rect x="63" y="295" width="1" height="7" fill="#000"/>
<rect x="62" y="296" width="3" height="3" fill="#000"/>
<rect x="63" y="297" width="1" height="1" fill="#fff"/>
<rect x="67" y="302" width="1" height="37" fill="#000"/>
<rect x="66" y="302" width="3" height="36" fill="#000"/>
<rect x="71" y="330" width="1" height="27" fill="#000"/>
<rect x="70" y="333" width="3" height="5" fill="#000"/>
<rect x="71" y="334" width="1" height="3" fill="#fff"/>
<rect x="75" y="332" width="1" height="10" fill="#000"/>
<rect x="74" y="332" width="3" height="4" fill="#000"/>
<rect x="79" y="312" width="1" height="27" fill="#000"/>
<rect x="78" y="316" width="3" height="21" fill="#000"/>
<rect x="79" y="317" width="1" height="19" fill="#fff"/>
<rect x="83" y="314" width="1" height="11" fill="#000"/>
<rect x="82" y="316" width="3" height="7" fill="#000"/>
<rect x="87" y="306" width="1" height="24" fill="#000"/>
<rect x="86" y="312" width="3" height="11" fill="#000"/>
<rect x="91" y="318" width="1" height="14" fill="#000"/>
<rect x="90" y="321" width="3" height="2" fill="#000"/>
<rect x="95" y="318" width="1" height="7" fill="#000"/>
<rect x="94" y="318" width="3" height="5" fill="#000"/>
<rect x="95" y="319" width="1" height="3" fill="#fff"/>
<rect x="99" y="307" width="1" height="14" fill="#000"/>
<rect x="98" y="309" width="3" height="10" fill="#000"/>
<rect x="99" y="310" width="1" height="8" fill="#fff"/>
<rect x="103" y="303" width="1" height="9" fill="#000"/>
<rect x="102" y="305" width="3" height="4" fill="#000"/>
<rect x="103" y="306" width="1" height="2" fill="#fff"/>
<rect x="107" y="294" width="1" height="15" fill="#000"/>
<rect x="106" y="299" width="3" height="7" fill="#000"/>
<rect x="107" y="300" width="1" height="5" fill="#fff"/>
<rect x="111" y="296" width="1" height="7" fill="#000"/>
<rect x="110" y="299" width="3" height="1" fill="#000"/>
<rect x="115" y="293" width="1" height="8" fill="#000"/>
<rect x="114" y="293" width="3" height="8" fill="#000"/>
<rect x="115" y="294" width="1" height="6" fill="#fff"/>
<rect x="119" y="290" width="1" height="8" fill="#000"/>
<rect x="118" y="294" width="3" height="1" fill="#000"/>
<rect x="123" y="291" width="1" height="14" fill="#000"/>
<rect x="122" y="292" width="3" height="9" fill="#000"/>
<rect x="127" y="286" width="1" height="20" fill="#000"/>
<rect x="126" y="289" width="3" height="14" fill="#000"/>
<rect x="127" y="290" width="1" height="12" fill="#fff"/>
<rect x="131" y="280" width="1" height="12" fill="#000"/>
<rect x="130" y="289" width="3" height="2" fill="#000"/>
<rect x="135" y="284" width="1" height="6" fill="#000"/>
<rect x="134" y="284" width="3" height="4" fill="#000"/>
<rect x="135" y="285" width="1" height="2" fill="#fff"/>
<rect x="139" y="281" width="1" height="9" fill="#000"/>
<rect x="138" y="284" width="3" height="1" fill="#000"/>
<rect x="143" y="279" width="1" height="7" fill="#000"/>
<rect x="142" y="280" width="3" height="5" fill="#000"/>
<rect x="143" y="281" width="1" height="3" fill="#fff"/>
<rect x="147" y="279" width="1" height="14" fill="#000"/>
<rect x="146" y="280" width="3" height="11" fill="#000"/>
<rect x="151" y="284" width="1" height="8" fill="#000"/>
<rect x="150" y="286" width="3" height="4" fill="#000"/>
<rect x="151" y="287" width="1" height="2" fill="#fff"/>
<rect x="155" y="278" width="1" height="8" fill="#000"/>
<rect x="154" y="278" width="3" height="7" fill="#000"/>
<rect x="155" y="279" width="1" height="5" fill="#fff"/>
<rect x="159" y="275" width="1" height="7" fill="#000"/>
<rect x="158" y="276" width="3" height="3" fill="#000"/>
<rect x="159" y="277" width="1" height="1" fill="#fff"/>
<rect x="163" y="273" width="1" height="5" fill="#000"/>
<rect x="162" y="276" width="3" height="1" fill="#000"/>
<rect x="167" y="272" width="1" height="23" fill="#000"/>
<rect x="166" y="276" width="3" height="3" fill="#000"/>
<rect x="171" y="278" width="1" height="20" fill="#000"/>
<rect x="170" y="278" width="3" height="13" fill="#000"/>
<rect x="175" y="283" width="1" height="9" fill="#000"/>
<rect x="174" y="283" width="3" height="8" fill="#000"/>
<rect x="175" y="284" width="1" height="6" fill="#fff"/>
<rect x="179" y="276" width="1" height="13" fill="#000"/>
<rect x="178" y="278" width="3" height="6" fill="#000"/>
<rect x="179" y="279" width="1" height="4" fill="#fff"/>
<rect x="183" y="278" width="1" height="5" fill="#000"/>
<rect x="182" y="278" width="3" height="3" fill="#000"/>
<rect x="187" y="217" width="1" height="66" fill="#000"/>
<rect x="186" y="223" width="3" height="56" fill="#000"/>
<rect x="187" y="224" width="1" height="54" fill="#fff"/>
<rect x="191" y="212" width="1" height="16" fill="#000"/>
<rect x="190" y="219" width="3" height="6" fill="#000"/>
<rect x="191" y="220" width="1" height="4" fill="#fff"/>
<rect x="195" y="214" width="1" height="9" fill="#000"/>
<rect x="194" y="216" width="3" height="1" fill="#000"/>
<rect x="199" y="213" width="1" height="5" fill="#000"/>
<rect x="198" y="213" width="3" height="4" fill="#000"/>
<rect x="199" y="214" width="1" height="2" fill="#fff"/>
<rect x="203" y="210" width="1" height="6" fill="#000"/>
<rect x="202" y="215" width="3" height="1" fill="#000"/>
<rect x="207" y="218" width="1" height="13" fill="#000"/>
<rect x="206" y="218" width="3" height="3" fill="#000"/>
<rect x="207" y="219" width="1" height="1" fill="#fff"/>
<rect x="211" y="205" width="1" height="16" fill="#000"/>
<rect x="210" y="209" width="3" height="10" fill="#000"/>
<rect x="211" y="210" width="1" height="8" fill="#fff"/>
<rect x="215" y="207" width="1" height="9" fill="#000"/>
<rect x="214" y="209" width="3" height="6" fill="#000"/>
<rect x="219" y="202" width="1" height="17" fill="#000"/>
<rect x="218" y="203" width="3" height="12" fill="#000"/>
<rect x="219" y="204" width="1" height="10" fill="#fff"/>
<rect x="223" y="203" width="1" height="8" fill="#000"/>
<rect x="222" y="203" width="3" height="4" fill="#000"/>
<rect x="227" y="206" width="1" height="21" fill="#000"/>
<rect x="226" y="206" width="3" height="17" fill="#000"/>
<rect x="231" y="213" width="1" height="13" fill="#000"/>
<rect x="230" y="219" width="3" height="4" fill="#000"/>
<rect x="231" y="220" width="1" height="2" fill="#fff"/>
<rect x="235" y="216" width="1" height="10" fill="#000"/>
<rect x="234" y="218" width="3" height="3" fill="#000"/>
<rect x="239" y="217" width="1" height="13" fill="#000"/>
<rect x="238" y="220" width="3" height="7" fill="#000"/>
<rect x="243" y="225" width="1" height="4" fill="#000"/>
<rect x="242" y="227" width="3" height="1" fill="#000"/>
<rect x="247" y="227" width="1" height="1" fill="#000"/>
<rect x="246" y="227" width="3" height="1" fill="#000"/>
<rect x="251" y="199" width="1" height="29" fill="#000"/>
<rect x="250" y="210" width="3" height="18" fill="#000"/>
<rect x="251" y="211" width="1" height="16" fill="#fff"/>
<rect x="255" y="204" width="1" height="29" fill="#000"/>
<rect x="254" y="210" width="3" height="17" fill="#000"/>
<rect x="259" y="228" width="1" height="7" fill="#000"/>
<rect x="258" y="229" width="3" height="2" fill="#000"/>
<rect x="263" y="226" width="1" height="6" fill="#000"/>
<rect x="262" y="226" width="3" height="6" fill="#000"/>
<rect x="263" y="227" width="1" height="4" fill="#fff"/>
<rect x="267" y="223" width="1" height="5" fill="#000"/>
<rect x="266" y="224" width="3" height="3" fill="#000"/>
<rect x="267" y="225" width="1" height="1" fill="#fff"/>
<rect x="271" y="191" width="1" height="34" fill="#000"/>
<rect x="270" y="218" width="3" height="5" fill="#000"/>
<rect x="271" y="219" width="1" height="3" fill="#fff"/>
<rect x="275" y="199" width="1" height="20" fill="#000"/>
<rect x="274" y="211" width="3" height="7" fill="#000"/>
<rect x="275" y="212" width="1" height="5" fill="#fff"/>
<rect x="279" y="205" width="1" height="9" fill="#000"/>
<rect x="278" y="205" width="3" height="8" fill="#000"/>
<rect x="279" y="206" width="1" height="6" fill="#fff"/>
<rect x="283" y="199" width="1" height="11" fill="#000"/>
<rect x="282" y="203" width="3" height="3" fill="#000"/>
<rect x="283" y="204" width="1" height="1" fill="#fff"/>
<rect x="287" y="200" width="1" height="10" fill="#000"/>
<rect x="286" y="201" width="3" height="8" fill="#000"/>
<rect x="291" y="166" width="1" height="49" fill="#000"/>
<rect x="290" y="200" width="3" height="8" fill="#000"/>
<rect x="295" y="202" width="1" height="26" fill="#000"/>
<rect x="294" y="207" width="3" height="12" fill="#000"/>
<rect x="299" y="218" width="1" height="5" fill="#000"/>
<rect x="298" y="220" width="3" height="1" fill="#000"/>
<rect x="303" y="214" width="1" height="7" fill="#000"/>
<rect x="302" y="218" width="3" height="3" fill="#000"/>
<rect x="303" y="219" width="1" height="1" fill="#fff"/>
<rect x="307" y="218" width="1" height="11" fill="#000"/>
<rect x="306" y="218" width="3" height="8" fill="#000"/>
<rect x="311" y="211" width="1" height="15" fill="#000"/>
<rect x="310" y="217" width="3" height="4" fill="#000"/>
<rect x="311" y="218" width="1" height="2" fill="#fff"/>
<rect x="315" y="209" width="1" height="12" fill="#000"/>
<rect x="314" y="212" width="3" height="7" fill="#000"/>
<rect x="315" y="213" width="1" height="5" fill="#fff"/>
<rect x="319" y="210" width="1" height="6" fill="#000"/>
<rect x="318" y="212" width="3" height="1" fill="#000"/>
<rect x="323" y="208" width="1" height="7" fill="#000"/>
<rect x="322" y="209" width="3" height="4" fill="#000"/>
<rect x="323" y="210" width="1" height="2" fill="#fff"/>
<rect x="327" y="205" width="1" height="9" fill="#000"/>
<rect x="326" y="209" width="3" height="5" fill="#000"/>
<rect x="331" y="199" width="1" height="23" fill="#000"/>
<rect x="330" y="211" width="3" height="3" fill="#000"/>
<rect x="335" y="194" width="1" height="22" fill="#000"/>
<rect x="334" y="202" width="3" height="13" fill="#000"/>
<rect x="335" y="203" width="1" height="11" fill="#fff"/>
<rect x="339" y="197" width="1" height="8" fill="#000"/>
<rect x="338" y="198" width="3" height="6" fill="#000"/>
<rect x="339" y="199" width="1" height="4" fill="#fff"/>
<rect x="343" y="190" width="1" height="10" fill="#000"/>
<rect x="342" y="196" width="3" height="3" fill="#000"/>
<rect x="343" y="197" width="1" height="1" fill="#fff"/>
<rect x="347" y="193" width="1" height="5" fill="#000"/>
<rect x="346" y="194" width="3" height="3" fill="#000"/>
<rect x="351" y="193" width="1" height="40" fill="#000"/>
<rect x="350" y="201" width="3" height="12" fill="#000"/>
<rect x="355" y="187" width="1" height="30" fill="#000"/>
<rect x="354" y="189" width="3" height="23" fill="#000"/>
<rect x="355" y="190" width="1" height="21" fill="#fff"/>
<rect x="359" y="188" width="1" height="4" fill="#000"/>
<rect x="358" y="188" width="3" height="3" fill="#000"/>
<rect x="363" y="188" width="1" height="8" fill="#000"/>
<rect x="362" y="189" width="3" height="2" fill="#000"/>
<rect x="367" y="185" width="1" height="6" fill="#000"/>
<rect x="366" y="189" width="3" height="1" fill="#000"/>
<rect x="371" y="170" width="1" height="33" fill="#000"/>
<rect x="370" y="174" width="3" height="18" fill="#000"/>
<rect x="371" y="175" width="1" height="16" fill="#fff"/>
<rect x="375" y="170" width="1" height="38" fill="#000"/>
<rect x="374" y="174" width="3" height="18" fill="#000"/>
<rect x="379" y="188" width="1" height="8" fill="#000"/>
<rect x="378" y="190" width="3" height="3" fill="#000"/>
<rect x="379" y="191" width="1" height="1" fill="#fff"/>
<rect x="383" y="188" width="1" height="7" fill="#000"/>
<rect x="382" y="189" width="3" height="2" fill="#000"/>
<rect x="387" y="186" width="1" height="5" fill="#000"/>
<rect x="386" y="190" width="3" height="1" fill="#000"/>
<rect x="391" y="193" width="1" height="58" fill="#000"/>
<rect x="390" y="193" width="3" height="44" fill="#000"/>
<rect x="395" y="226" width="1" height="23" fill="#000"/>
<rect x="394" y="231" width="3" height="1" fill="#000"/>
<rect x="399" y="227" width="1" height="9" fill="#000"/>
<rect x="398" y="231" width="3" height="4" fill="#000"/>
<rect x="403" y="226" width="1" height="14" fill="#000"/>
<rect x="402" y="234" width="3" height="3" fill="#000"/>
<rect x="407" y="235" width="1" height="9" fill="#000"/>
<rect x="406" y="236" width="3" height="2" fill="#000"/>
<rect x="411" y="232" width="1" height="19" fill="#000"/>
<rect x="410" y="240" width="3" height="10" fill="#000"/>
<rect x="415" y="235" width="1" height="15" fill="#000"/>
<rect x="414" y="241" width="3" height="9" fill="#000"/>
<rect x="415" y="242" width="1" height="7" fill="#fff"/>
<rect x="419" y="237" width="1" height="9" fill="#000"/>
<rect x="418" y="241" width="3" height="1" fill="#000"/>
<rect x="423" y="236" width="1" height="11" fill="#000"/>
<rect x="422" y="237" width="3" height="6" fill="#000"/>
<rect x="423" y="238" width="1" height="4" fill="#fff"/>
<rect x="427" y="234" width="1" height="7" fill="#000"/>
<rect x="426" y="236" width="3" height="2" fill="#000"/>
<rect x="431" y="245" width="1" height="1" fill="#000"/>
<rect x="430" y="245" width="3" height="1" fill="#000"/>
<rect x="435" y="227" width="1" height="25" fill="#000"/>
<rect x="434" y="240" width="3" height="4" fill="#000"/>
<rect x="435" y="241" width="1" height="2" fill="#fff"/>
<rect x="439" y="221" width="1" height="23" fill="#000"/>
<rect x="438" y="240" width="3" height="1" fill="#000"/>
<rect x="443" y="236" width="1" height="11" fill="#000"/>
<rect x="442" y="237" width="3" height="10" fill="#000"/>
<rect x="447" y="244" width="1" height="9" fill="#000"/>
<rect x="446" y="244" width="3" height="8" fill="#000"/>
<rect x="451" y="246" width="1" height="7" fill="#000"/>
<rect x="450" y="249" width="3" height="3" fill="#000"/>
<rect x="451" y="250" width="1" height="1" fill="#fff"/>
<rect x="455" y="216" width="1" height="42" fill="#000"/>
<rect x="454" y="220" width="3" height="28" fill="#000"/>
<rect x="455" y="221" width="1" height="26" fill="#fff"/>
<rect x="459" y="197" width="1" height="33" fill="#000"/>
<rect x="458" y="219" width="3" height="2" fill="#000"/>
<rect x="463" y="218" width="1" height="8" fill="#000"/>
<rect x="462" y="219" width="3" height="2" fill="#000"/>
<rect x="467" y="215" width="1" height="12" fill="#000"/>
<rect x="466" y="217" width="3" height="4" fill="#000"/>
<rect x="467" y="218" width="1" height="2" fill="#fff"/>
<rect x="471" y="211" width="1" height="7" fill="#000"/>
<rect x="470" y="216" width="3" height="2" fill="#000"/>
<rect x="475" y="215" width="1" height="16" fill="#000"/>
<rect x="474" y="223" width="3" height="4" fill="#000"/>
<rect x="479" y="223" width="1" height="43" fill="#000"/>
<rect x="478" y="227" width="3" height="27" fill="#000"/>
<rect x="483" y="239" width="1" height="14" fill="#000"/>
<rect x="482" y="242" width="3" height="11" fill="#000"/>
<rect x="483" y="243" width="1" height="9" fill="#fff"/>
<rect x="487" y="239" width="1" height="10" fill="#000"/>
<rect x="486" y="242" width="3" height="3" fill="#000"/>
<rect x="491" y="241" width="1" height="5" fill="#000"/>
<rect x="490" y="242" width="3" height="3" fill="#000"/>
<rect x="491" y="243" width="1" height="1" fill="#fff"/>
<rect x="495" y="226" width="1" height="25" fill="#000"/>
<rect x="494" y="231" width="3" height="10" fill="#000"/>
<rect x="495" y="232" width="1" height="8" fill="#fff"/>
<rect x="499" y="227" width="1" height="27" fill="#000"/>
<rect x="498" y="231" width="3" height="9" fill="#000"/>
<rect x="503" y="232" width="1" height="17" fill="#000"/>
<rect x="502" y="233" width="3" height="7" fill="#000"/>
<rect x="503" y="234" width="1" height="5" fill="#fff"/>
<rect x="507" y="230" width="1" height="6" fill="#000"/>
<rect x="506" y="232" width="3" height="2" fill="#000"/>
<rect x="511" y="231" width="1" height="9" fill="#000"/>
<rect x="510" y="232" width="3" height="7" fill="#000"/>
<rect x="515" y="232" width="1" height="9" fill="#000"/>
<rect x="514" y="235" width="3" height="4" fill="#000"/>
<rect x="515" y="236" width="1" height="2" fill="#fff"/>
<rect x="519" y="218" width="1" height="14" fill="#000"/>
<rect x="518" y="224" width="3" height="8" fill="#000"/>
<rect x="519" y="225" width="1" height="6" fill="#fff"/>
<rect x="523" y="201" width="1" height="26" fill="#000"/>
<rect x="522" y="216" width="3" height="9" fill="#000"/>
<rect x="523" y="217" width="1" height="7" fill="#fff"/>
<rect x="527" y="204" width="1" height="16" fill="#000"/>
<rect x="526" y="205" width="3" height="13" fill="#000"/>
<rect x="527" y="206" width="1" height="11" fill="#fff"/>
<rect x="531" y="203" width="1" height="16" fill="#000"/>
<rect x="530" y="204" width="3" height="14" fill="#000"/>
<rect x="535" y="208" width="1" height="18" fill="#000"/>
<rect x="534" y="211" width="3" height="7" fill="#000"/>
<rect x="535" y="212" width="1" height="5" fill="#fff"/>
<rect x="539" y="207" width="1" height="9" fill="#000"/>
<rect x="538" y="208" width="3" height="4" fill="#000"/>
<rect x="539" y="209" width="1" height="2" fill="#fff"/>
<rect x="543" y="195" width="1" height="29" fill="#000"/>
<rect x="542" y="201" width="3" height="16" fill="#000"/>
<rect x="543" y="202" width="1" height="14" fill="#fff"/>
<rect x="547" y="179" width="1" height="36" fill="#000"/>
<rect x="546" y="188" width="3" height="13" fill="#000"/>
<rect x="547" y="189" width="1" height="11" fill="#fff"/>
<rect x="551" y="182" width="1" height="27" fill="#000"/>
<rect x="550" y="188" width="3" height="5" fill="#000"/>
<rect x="555" y="160" width="1" height="36" fill="#000"/>
<rect x="554" y="164" width="3" height="29" fill="#000"/>
<rect x="555" y="165" width="1" height="27" fill="#fff"/>
<rect x="559" y="141" width="1" height="28" fill="#000"/>
<rect x="558" y="142" width="3" height="22" fill="#000"/>
<rect x="559" y="143" width="1" height="20" fill="#fff"/>
<rect x="563" y="141" width="1" height="6" fill="#000"/>
<rect x="562" y="143" width="3" height="1" fill="#000"/>
<rect x="567" y="144" width="1" height="22" fill="#000"/>
<rect x="566" y="148" width="3" height="12" fill="#000"/>
<rect x="571" y="155" width="1" height="19" fill="#000"/>
<rect x="570" y="156" width="3" height="4" fill="#000"/>
<rect x="571" y="157" width="1" height="2" fill="#fff"/>
<rect x="575" y="137" width="1" height="25" fill="#000"/>
<rect x="574" y="141" width="3" height="16" fill="#000"/>
<rect x="575" y="142" width="1" height="14" fill="#fff"/>
<rect x="579" y="125" width="1" height="6" fill="#000"/>
<rect x="578" y="125" width="3" height="3" fill="#000"/>
<rect x="579" y="126" width="1" height="1" fill="#fff"/>
<rect x="583" y="122" width="1" height="8" fill="#000"/>
<rect x="582" y="125" width="3" height="4" fill="#000"/>
<rect x="587" y="134" width="1" height="32" fill="#000"/>
<rect x="586" y="134" width="3" height="26" fill="#000"/>
<rect x="591" y="151" width="1" height="29" fill="#000"/>
<rect x="590" y="159" width="3" height="14" fill="#000"/>
<rect x="595" y="157" width="1" height="19" fill="#000"/>
<rect x="594" y="172" width="3" height="2" fill="#000"/>
<rect x="599" y="163" width="1" height="10" fill="#000"/>
<rect x="598" y="163" width="3" height="10" fill="#000"/>
<rect x="599" y="164" width="1" height="8" fill="#fff"/>
<rect x="603" y="151" width="1" height="14" fill="#000"/>
<rect x="602" y="152" width="3" height="12" fill="#000"/>
<rect x="603" y="153" width="1" height="10" fill="#fff"/>
<rect x="607" y="145" width="1" height="9" fill="#000"/>
<rect x="606" y="145" width="3" height="8" fill="#000"/>
<rect x="607" y="146" width="1" height="6" fill="#fff"/>
<rect x="611" y="122" width="1" height="21" fill="#000"/>
<rect x="610" y="134" width="3" height="7" fill="#000"/>
<rect x="611" y="135" width="1" height="5" fill="#fff"/>
<rect x="615" y="111" width="1" height="27" fill="#000"/>
<rect x="614" y="116" width="3" height="19" fill="#000"/>
<rect x="615" y="117" width="1" height="17" fill="#fff"/>
<rect x="619" y="115" width="1" height="20" fill="#000"/>
<rect x="618" y="116" width="3" height="9" fill="#000"/>
<rect x="623" y="79" width="1" height="46" fill="#000"/>
<rect x="622" y="84" width="3" height="40" fill="#000"/>
<rect x="623" y="85" width="1" height="38" fill="#fff"/>
<rect x="627" y="79" width="1" height="33" fill="#000"/>
<rect x="626" y="84" width="3" height="24" fill="#000"/>
<rect x="631" y="105" width="1" height="10" fill="#000"/>
<rect x="630" y="107" width="3" height="6" fill="#000"/>
<rect x="635" y="113" width="1" height="13" fill="#000"/>
<rect x="634" y="119" width="3" height="5" fill="#000"/>
<rect x="639" y="110" width="1" height="27" fill="#000"/>
<rect x="638" y="124" width="3" height="12" fill="#000"/>
<rect x="643" y="118" width="1" height="23" fill="#000"/>
<rect x="642" y="123" width="3" height="12" fill="#000"/>
<rect x="643" y="124" width="1" height="10" fill="#fff"/>
<rect x="647" y="122" width="1" height="13" fill="#000"/>
<rect x="646" y="122" width="3" height="10" fill="#000"/>
<rect x="651" y="120" width="1" height="18" fill="#000"/>
<rect x="650" y="121" width="3" height="11" fill="#000"/>
<rect x="651" y="122" width="1" height="9" fill="#fff"/>
<rect x="655" y="118" width="1" height="8" fill="#000"/>
<rect x="654" y="121" width="3" height="1" fill="#000"/>
<rect x="659" y="118" width="1" height="17" fill="#000"/>
<rect x="658" y="122" width="3" height="1" fill="#000"/>
<rect x="663" y="118" width="1" height="20" fill="#000"/>
<rect x="662" y="122" width="3" height="11" fill="#000"/>
<rect x="667" y="127" width="1" height="22" fill="#000"/>
<rect x="666" y="129" width="3" height="6" fill="#000"/>
<rect x="671" y="131" width="1" height="11" fill="#000"/>
<rect x="670" y="132" width="3" height="8" fill="#000"/>
<rect x="675" y="132" width="1" height="10" fill="#000"/>
<rect x="674" y="133" width="3" height="8" fill="#000"/>
<rect x="675" y="134" width="1" height="6" fill="#fff"/>
<rect x="679" y="132" width="1" height="7" fill="#000"/>
<rect x="678" y="134" width="3" height="1" fill="#000"/>
<rect x="683" y="129" width="1" height="12" fill="#000"/>
<rect x="682" y="133" width="3" height="7" fill="#000"/>
<rect x="687" y="137" width="1" height="22" fill="#000"/>
<rect x="686" y="138" width="3" height="12" fill="#000"/>
<rect x="691" y="133" width="1" height="23" fill="#000"/>
<rect x="690" y="135" width="3" height="14" fill="#000"/>
<rect x="691" y="136" width="1" height="12" fill="#fff"/>
<rect x="695" y="134" width="1" height="9" fill="#000"/>
<rect x="694" y="135" width="3" height="2" fill="#000"/>
<rect x="699" y="134" width="1" height="12" fill="#000"/>
<rect x="698" y="136" width="3" height="8" fill="#000"/>
<rect x="703" y="141" width="1" height="14" fill="#000"/>
<rect x="702" y="142" width="3" height="13" fill="#000"/>
<rect x="707" y="151" width="1" height="58" fill="#000"/>
<rect x="706" y="153" width="3" height="46" fill="#000"/>
<rect x="711" y="197" width="1" height="10" fill="#000"/>
<rect x="710" y="198" width="3" height="7" fill="#000"/>
<rect x="715" y="183" width="1" height="23" fill="#000"/>
<rect x="714" y="183" width="3" height="22" fill="#000"/>
<rect x="715" y="184" width="1" height="20" fill="#fff"/>
<rect x="719" y="182" width="1" height="8" fill="#000"/>
<rect x="718" y="183" width="3" height="5" fill="#000"/>
<rect x="723" y="186" width="1" height="11" fill="#000"/>
<rect x="722" y="187" width="3" height="3" fill="#000"/>
<rect x="727" y="182" width="1" height="9" fill="#000"/>
<rect x="726" y="183" width="3" height="7" fill="#000"/>
<rect x="727" y="184" width="1" height="5" fill="#fff"/>
<rect x="731" y="168" width="1" height="20" fill="#000"/>
<rect x="730" y="176" width="3" height="12" fill="#000"/>
<rect x="735" y="166" width="1" height="22" fill="#000"/>
<rect x="734" y="171" width="3" height="17" fill="#000"/>
<rect x="735" y="172" width="1" height="15" fill="#fff"/>
<rect x="739" y="153" width="1" height="22" fill="#000"/>
<rect x="738" y="157" width="3" height="14" fill="#000"/>
<rect x="739" y="158" width="1" height="12" fill="#fff"/>
<rect x="743" y="150" width="1" height="11" fill="#000"/>
<rect x="742" y="151" width="3" height="7" fill="#000"/>
<rect x="743" y="152" width="1" height="5" fill="#fff"/>
<rect x="747" y="148" width="1" height="15" fill="#000"/>
<rect x="746" y="151" width="3" height="11" fill="#000"/>
<rect x="751" y="155" width="1" height="7" fill="#000"/>
<rect x="750" y="156" width="3" height="6" fill="#000"/>
<rect x="751" y="157" width="1" height="4" fill="#fff"/>
<rect x="755" y="149" width="1" height="17" fill="#000"/>
<rect x="754" y="155" width="3" height="8" fill="#000"/>
<rect x="759" y="152" width="1" height="14" fill="#000"/>
<rect x="758" y="160" width="3" height="2" fill="#000"/>
<rect x="763" y="155" width="1" height="16" fill="#000"/>
<rect x="762" y="159" width="3" height="1" fill="#000"/>
<rect x="767" y="158" width="1" height="5" fill="#000"/>
<rect x="766" y="159" width="3" height="3" fill="#000"/>
<rect x="771" y="154" width="1" height="12" fill="#000"/>
<rect x="770" y="155" width="3" height="9" fill="#000"/>
<rect x="771" y="156" width="1" height="7" fill="#fff"/>
<rect x="775" y="150" width="1" height="7" fill="#000"/>
<rect x="774" y="154" width="3" height="2" fill="#000"/>
<rect x="779" y="142" width="1" height="19" fill="#000"/>
<rect x="778" y="151" width="3" height="8" fill="#000"/>
<rect x="779" y="152" width="1" height="6" fill="#fff"/>
<rect x="783" y="136" width="1" height="19" fill="#000"/>
<rect x="782" y="151" width="3" height="1" fill="#000"/>
<rect x="787" y="142" width="1" height="22" fill="#000"/>
<rect x="786" y="144" width="3" height="8" fill="#000"/>
<rect x="787" y="145" width="1" height="6" fill="#fff"/>
<rect x="791" y="139" width="1" height="7" fill="#000"/>
<rect x="790" y="141" width="3" height="4" fill="#000"/>
<rect x="791" y="142" width="1" height="2" fill="#fff"/>
<rect x="795" y="141" width="1" height="9" fill="#000"/>
<rect x="794" y="141" width="3" height="6" fill="#000"/>
<rect x="799" y="145" width="1" height="9" fill="#000"/>
<rect x="798" y="145" width="3" height="9" fill="#000"/>
<rect x="803" y="142" width="1" height="19" fill="#000"/>
<rect x="802" y="148" width="3" height="9" fill="#000"/>
<rect x="803" y="149" width="1" height="7" fill="#fff"/>
<rect x="807" y="125" width="1" height="24" fill="#000"/>
<rect x="806" y="129" width="3" height="20" fill="#000"/>
<rect x="807" y="130" width="1" height="18" fill="#fff"/>
<rect x="811" y="118" width="1" height="18" fill="#000"/>
<rect x="810" y="129" width="3" height="5" fill="#000"/>
<rect x="815" y="127" width="1" height="9" fill="#000"/>
<rect x="814" y="130" width="3" height="4" fill="#000"/>
<rect x="815" y="131" width="1" height="2" fill="#fff"/>
<rect x="819" y="121" width="1" height="10" fill="#000"/>
<rect x="818" y="125" width="3" height="6" fill="#000"/>
<rect x="819" y="126" width="1" height="4" fill="#fff"/>
<rect x="823" y="121" width="1" height="5" fill="#000"/>
<rect x="822" y="121" width="3" height="5" fill="#000"/>
<rect x="823" y="122" width="1" height="3" fill="#fff"/>
<rect x="827" y="120" width="1" height="13" fill="#000"/>
<rect x="826" y="124" width="3" height="2" fill="#000"/>
<rect x="831" y="124" width="1" height="13" fill="#000"/>
<rect x="830" y="125" width="3" height="1" fill="#000"/>
<rect x="835" y="124" width="1" height="8" fill="#000"/>
<rect x="834" y="125" width="3" height="6" fill="#000"/>
<rect x="839" y="128" width="1" height="4" fill="#000"/>
<rect x="838" y="129" width="3" height="2" fill="#000"/>
<rect x="843" y="124" width="1" height="7" fill="#000"/>
<rect x="842" y="124" width="3" height="7" fill="#000"/>
<rect x="843" y="125" width="1" height="5" fill="#fff"/>
<rect x="847" y="123" width="1" height="3" fill="#000"/>
<rect x="846" y="124" width="3" height="2" fill="#000"/>
<rect x="851" y="103" width="1" height="20" fill="#000"/>
<rect x="850" y="110" width="3" height="13" fill="#000"/>
<rect x="851" y="111" width="1" height="11" fill="#fff"/>
<rect x="855" y="76" width="1" height="38" fill="#000"/>
<rect x="854" y="82" width="3" height="29" fill="#000"/>
<rect x="855" y="83" width="1" height="27" fill="#fff"/>
<rect x="859" y="80" width="1" height="13" fill="#000"/>
<rect x="858" y="81" width="3" height="7" fill="#000"/>
<rect x="863" y="86" width="1" height="5" fill="#000"/>
<rect x="862" y="87" width="3" height="1" fill="#000"/>
<rect x="867" y="86" width="1" height="15" fill="#000"/>
<rect x="866" y="87" width="3" height="8" fill="#000"/>
<rect x="871" y="93" width="1" height="5" fill="#000"/>
<rect x="870" y="94" width="3" height="3" fill="#000"/>
<rect x="875" y="84" width="1" height="21" fill="#000"/>
<rect x="874" y="92" width="3" height="12" fill="#000"/>
<rect x="879" y="101" width="1" height="15" fill="#000"/>
<rect x="878" y="103" width="3" height="11" fill="#000"/>
<rect x="883" y="105" width="1" height="10" fill="#000"/>
<rect x="882" y="109" width="3" height="4" fill="#000"/>
<rect x="883" y="110" width="1" height="2" fill="#fff"/>
<rect x="887" y="107" width="1" height="6" fill="#000"/>
<rect x="886" y="109" width="3" height="1" fill="#000"/>
<rect x="891" y="107" width="1" height="9" fill="#000"/>
<rect x="890" y="108" width="3" height="3" fill="#000"/>
<rect x="891" y="109" width="1" height="1" fill="#fff"/>
<rect x="895" y="105" width="1" height="5" fill="#000"/>
<rect x="894" y="105" width="3" height="4" fill="#000"/>
<rect x="895" y="106" width="1" height="2" fill="#fff"/>
<rect x="899" y="88" width="1" height="18" fill="#000"/>
<rect x="898" y="100" width="3" height="1" fill="#000"/>
<rect x="903" y="95" width="1" height="36" fill="#000"/>
<rect x="902" y="100" width="3" height="28" fill="#000"/>
<rect x="907" y="122" width="1" height="14" fill="#000"/>
<rect x="906" y="127" width="3" height="8" fill="#000"/>
<rect x="911" y="130" width="1" height="7" fill="#000"/>
<rect x="910" y="132" width="3" height="3" fill="#000"/>
<rect x="911" y="133" width="1" height="1" fill="#fff"/>
<rect x="915" y="127" width="1" height="13" fill="#000"/>
<rect x="914" y="128" width="3" height="5" fill="#000"/>
<rect x="915" y="129" width="1" height="3" fill="#fff"/>
<rect x="919" y="127" width="1" height="5" fill="#000"/>
<rect x="918" y="129" width="3" height="1" fill="#000"/>
<rect x="923" y="119" width="1" height="13" fill="#000"/>
<rect x="922" y="126" width="3" height="2" fill="#000"/>
<rect x="927" y="116" width="1" height="27" fill="#000"/>
<rect x="926" y="118" width="3" height="9" fill="#000"/>
<rect x="927" y="119" width="1" height="7" fill="#fff"/>
<rect x="931" y="112" width="1" height="14" fill="#000"/>
<rect x="930" y="115" width="3" height="4" fill="#000"/>
<rect x="931" y="116" width="1" height="2" fill="#fff"/>
<rect x="935" y="114" width="1" height="3" fill="#000"/>
<rect x="934" y="114" width="3" height="3" fill="#000"/>
<rect x="939" y="112" width="1" height="5" fill="#000"/>
<rect x="938" y="113" width="3" height="4" fill="#000"/>
<rect x="939" y="114" width="1" height="2" fill="#fff"/>
<rect x="943" y="112" width="1" height="4" fill="#000"/>
<rect x="942" y="113" width="3" height="3" fill="#000"/>
<rect x="947" y="99" width="1" height="20" fill="#000"/>
<rect x="946" y="106" width="3" height="9" fill="#000"/>
<rect x="947" y="107" width="1" height="7" fill="#fff"/>
<rect x="951" y="90" width="1" height="20" fill="#000"/>
<rect x="950" y="95" width="3" height="12" fill="#000"/>
<rect x="951" y="96" width="1" height="10" fill="#fff"/>
<rect x="955" y="66" width="1" height="33" fill="#000"/>
<rect x="954" y="71" width="3" height="25" fill="#000"/>
<rect x="955" y="72" width="1" height="23" fill="#fff"/>
<rect x="959" y="69" width="1" height="4" fill="#000"/>
<rect x="958" y="71" width="3" height="1" fill="#000"/>
<rect x="963" y="66" width="1" height="8" fill="#000"/>
<rect x="962" y="69" width="3" height="4" fill="#000"/>
<rect x="963" y="70" width="1" height="2" fill="#fff"/>
<rect x="967" y="68" width="1" height="3" fill="#000"/>
<rect x="966" y="69" width="3" height="2" fill="#000"/>
<rect x="971" y="20" width="1" height="54" fill="#000"/>
<rect x="970" y="33" width="3" height="31" fill="#000"/>
<rect x="971" y="34" width="1" height="29" fill="#fff"/>
<rect x="975" y="24" width="1" height="49" fill="#000"/>
<rect x="974" y="34" width="3" height="31" fill="#000"/>
<rect x="979" y="60" width="1" height="40" fill="#000"/>
<rect x="978" y="65" width="3" height="32" fill="#000"/>
<rect x="983" y="86" width="1" height="14" fill="#000"/>
<rect x="982" y="86" width="3" height="11" fill="#000"/>
<rect x="983" y="87" width="1" height="9" fill="#fff"/>
<rect x="987" y="85" width="1" height="20" fill="#000"/>
<rect x="986" y="87" width="3" height="12" fill="#000"/>
<rect x="991" y="96" width="1" height="6" fill="#000"/>
<rect x="990" y="98" width="3" height="3" fill="#000"/>
<rect x="991" y="99" width="1" height="1" fill="#fff"/>
<rect x="995" y="80" width="1" height="18" fill="#000"/>
<rect x="994" y="82" width="3" height="8" fill="#000"/>
<rect x="995" y="83" width="1" height="6" fill="#fff"/>
</g>
<g clip-path="url(#cs)">
<rect x="3" y="484" width="1" height="21" fill="#000090"/>
<rect x="7" y="484" width="1" height="16" fill="#000090"/>
<rect x="11" y="484" width="1" height="14" fill="#000090"/>
<rect x="15" y="484" width="1" height="12" fill="#000090"/>
<rect x="19" y="484" width="1" height="8" fill="#000090"/>
<rect x="23" y="484" width="1" height="4" fill="#000090"/>
<rect x="27" y="483" width="1" height="2" fill="#000090"/>
<rect x="31" y="484" width="1" height="4" fill="#000090"/>
<rect x="35" y="484" width="1" height="5" fill="#000090"/>
<rect x="39" y="484" width="1" height="3" fill="#000090"/>
<rect x="43" y="484" width="1" height="1" fill="#000090"/>
<rect x="47" y="477" width="1" height="8" fill="#000090"/>
<rect x="51" y="468" width="1" height="17" fill="#000090"/>
<rect x="55" y="464" width="1" height="21" fill="#000090"/>
<rect x="59" y="460" width="1" height="25" fill="#000090"/>
<rect x="63" y="456" width="1" height="29" fill="#000090"/>
<rect x="67" y="470" width="1" height="15" fill="#000090"/>
<rect x="71" y="477" width="1" height="8" fill="#000090"/>
<rect x="75" y="483" width="1" height="2" fill="#000090"/>
<rect x="79" y="482" width="1" height="3" fill="#000090"/>
<rect x="83" y="483" width="1" height="2" fill="#000090"/>
<rect x="87" y="484" width="1" height="1" fill="#000090"/>
<rect x="91" y="484" width="1" height="1" fill="#000090"/>
<rect x="95" y="484" width="1" height="1" fill="#000090"/>
<rect x="99" y="481" width="1" height="4" fill="#000090"/>
<rect x="103" y="478" width="1" height="7" fill="#000090"/>
<rect x="107" y="472" width="1" height="13" fill="#000090"/>
<rect x="111" y="468" width="1" height="17" fill="#000090"/>
<rect x="115" y="464" width="1" height="21" fill="#000090"/>
<rect x="119" y="460" width="1" height="25" fill="#000090"/>
<rect x="123" y="460" width="1" height="25" fill="#000090"/>
<rect x="127" y="456" width="1" height="29" fill="#000090"/>
<rect x="131" y="453" width="1" height="32" fill="#000090"/>
<rect x="135" y="449" width="1" height="36" fill="#000090"/>
<rect x="139" y="447" width="1" height="38" fill="#000090"/>
<rect x="143" y="444" width="1" height="41" fill="#000090"/>
<rect x="147" y="447" width="1" height="38" fill="#000090"/>
<rect x="151" y="447" width="1" height="38" fill="#000090"/>
<rect x="155" y="445" width="1" height="40" fill="#000090"/>
<rect x="159" y="444" width="1" height="41" fill="#000090"/>
<rect x="163" y="442" width="1" height="43" fill="#000090"/>
<rect x="167" y="444" width="1" height="41" fill="#000090"/>
<rect x="171" y="448" width="1" height="37" fill="#000090"/>
<rect x="175" y="450" width="1" height="35" fill="#000090"/>
<rect x="179" y="450" width="1" height="35" fill="#000090"/>
<rect x="183" y="451" width="1" height="34" fill="#000090"/>
<rect x="187" y="435" width="1" height="50" fill="#000090"/>
<rect x="191" y="419" width="1" height="66" fill="#000090"/>
<rect x="195" y="406" width="1" height="79" fill="#000090"/>
<rect x="199" y="396" width="1" height="89" fill="#000090"/>
<rect x="203" y="390" width="1" height="95" fill="#000090"/>
<rect x="207" y="388" width="1" height="97" fill="#000090"/>
<rect x="211" y="384" width="1" height="101" fill="#000090"/>
<rect x="215" y="382" width="1" height="103" fill="#000090"/>
<rect x="219" y="381" width="1" height="104" fill="#000090"/>
<rect x="223" y="381" width="1" height="104" fill="#000090"/>
<rect x="227" y="388" width="1" height="97" fill="#000090"/>
<rect x="231" y="393" width="1" height="92" fill="#000090"/>
<rect x="235" y="399" width="1" height="86" fill="#000090"/>
<rect x="239" y="406" width="1" height="79" fill="#000090"/>
<rect x="243" y="412" width="1" height="73" fill="#000090"/>
<rect x="247" y="420" width="1" height="65" fill="#000090"/>
<rect x="251" y="419" width="1" height="66" fill="#000090"/>
<rect x="255" y="426" width="1" height="59" fill="#000090"/>
<rect x="259" y="433" width="1" height="52" fill="#000090"/>
<rect x="263" y="437" width="1" height="48" fill="#000090"/>
<rect x="267" y="441" width="1" height="44" fill="#000090"/>
<rect x="271" y="441" width="1" height="44" fill="#000090"/>
<rect x="275" y="439" width="1" height="46" fill="#000090"/>
<rect x="279" y="438" width="1" height="47" fill="#000090"/>
<rect x="283" y="436" width="1" height="49" fill="#000090"/>
<rect x="287" y="436" width="1" height="49" fill="#000090"/>
<rect x="291" y="438" width="1" height="47" fill="#000090"/>
<rect x="295" y="444" width="1" height="41" fill="#000090"/>
<rect x="299" y="448" width="1" height="37" fill="#000090"/>
<rect x="303" y="451" width="1" height="34" fill="#000090"/>
<rect x="307" y="457" width="1" height="28" fill="#000090"/>
<rect x="311" y="459" width="1" height="26" fill="#000090"/>
<rect x="315" y="459" width="1" height="26" fill="#000090"/>
<rect x="319" y="460" width="1" height="25" fill="#000090"/>
<rect x="323" y="459" width="1" height="26" fill="#000090"/>
<rect x="327" y="460" width="1" height="25" fill="#000090"/>
<rect x="331" y="462" width="1" height="23" fill="#000090"/>
<rect x="335" y="459" width="1" height="26" fill="#000090"/>
<rect x="339" y="456" width="1" height="29" fill="#000090"/>
<rect x="343" y="453" width="1" height="32" fill="#000090"/>
<rect x="347" y="452" width="1" height="33" fill="#000090"/>
<rect x="351" y="455" width="1" height="30" fill="#000090"/>
<rect x="355" y="452" width="1" height="33" fill="#000090"/>
<rect x="359" y="449" width="1" height="36" fill="#000090"/>
<rect x="363" y="448" width="1" height="37" fill="#000090"/>
<rect x="367" y="447" width="1" height="38" fill="#000090"/>
<rect x="371" y="441" width="1" height="44" fill="#000090"/>
<rect x="375" y="443" width="1" height="42" fill="#000090"/>
<rect x="379" y="444" width="1" height="41" fill="#000090"/>
<rect x="383" y="445" width="1" height="40" fill="#000090"/>
<rect x="387" y="448" width="1" height="37" fill="#000090"/>
<rect x="391" y="466" width="1" height="19" fill="#000090"/>
<rect x="395" y="480" width="1" height="5" fill="#000090"/>
<rect x="399" y="484" width="1" height="5" fill="#000090"/>
<rect x="403" y="484" width="1" height="13" fill="#000090"/>
<rect x="407" y="484" width="1" height="21" fill="#000090"/>
<rect x="411" y="484" width="1" height="30" fill="#000090"/>
<rect x="415" y="484" width="1" height="36" fill="#000090"/>
<rect x="419" y="484" width="1" height="39" fill="#000090"/>
<rect x="423" y="484" width="1" height="40" fill="#000090"/>
<rect x="427" y="484" width="1" height="40" fill="#000090"/>
<rect x="431" y="484" width="1" height="42" fill="#000090"/>
<rect x="435" y="484" width="1" height="42" fill="#000090"/>
<rect x="439" y="484" width="1" height="41" fill="#000090"/>
<rect x="443" y="484" width="1" height="42" fill="#000090"/>
<rect x="447" y="484" width="1" height="43" fill="#000090"/>
<rect x="451" y="484" width="1" height="45" fill="#000090"/>
<rect x="455" y="484" width="1" height="34" fill="#000090"/>
<rect x="459" y="484" width="1" height="26" fill="#000090"/>
<rect x="463" y="484" width="1" height="18" fill="#000090"/>
<rect x="467" y="484" width="1" height="13" fill="#000090"/>
<rect x="471" y="484" width="1" height="7" fill="#000090"/>
<rect x="475" y="484" width="1" height="6" fill="#000090"/>
<rect x="479" y="484" width="1" height="14" fill="#000090"/>
<rect x="483" y="484" width="1" height="17" fill="#000090"/>
<rect x="487" y="484" width="1" height="19" fill="#000090"/>
<rect x="491" y="484" width="1" height="21" fill="#000090"/>
<rect x="495" y="484" width="1" height="18" fill="#000090"/>
<rect x="499" y="484" width="1" height="17" fill="#000090"/>
<rect x="503" y="484" width="1" height="15" fill="#000090"/>
<rect x="507" y="484" width="1" height="14" fill="#000090"/>
<rect x="511" y="484" width="1" height="13" fill="#000090"/>
<rect x="515" y="484" width="1" height="13" fill="#000090"/>
<rect x="519" y="484" width="1" height="8" fill="#000090"/>
<rect x="523" y="484" width="1" height="1" fill="#000090"/>
<rect x="527" y="478" width="1" height="7" fill="#000090"/>
<rect x="531" y="473" width="1" height="12" fill="#000090"/>
<rect x="535" y="469" width="1" height="16" fill="#000090"/>
<rect x="539" y="465" width="1" height="20" fill="#000090"/>
<rect x="543" y="460" width="1" height="25" fill="#000090"/>
<rect x="547" y="452" width="1" height="33" fill="#000090"/>
<rect x="551" y="447" width="1" height="38" fill="#000090"/>
<rect x="555" y="435" width="1" height="50" fill="#000090"/>
<rect x="559" y="419" width="1" height="66" fill="#000090"/>
<rect x="563" y="406" width="1" height="79" fill="#000090"/>
<rect x="567" y="401" width="1" height="84" fill="#000090"/>
<rect x="571" y="399" width="1" height="86" fill="#000090"/>
<rect x="575" y="392" width="1" height="93" fill="#000090"/>
<rect x="579" y="384" width="1" height="101" fill="#000090"/>
<rect x="583" y="378" width="1" height="107" fill="#000090"/>
<rect x="587" y="386" width="1" height="99" fill="#000090"/>
<rect x="591" y="398" width="1" height="87" fill="#000090"/>
<rect x="595" y="408" width="1" height="77" fill="#000090"/>
<rect x="599" y="414" width="1" height="71" fill="#000090"/>
<rect x="603" y="415" width="1" height="70" fill="#000090"/>
<rect x="607" y="415" width="1" height="70" fill="#000090"/>
<rect x="611" y="411" width="1" height="74" fill="#000090"/>
<rect x="615" y="403" width="1" height="82" fill="#000090"/>
<rect x="619" y="401" width="1" height="84" fill="#000090"/>
<rect x="623" y="386" width="1" height="99" fill="#000090"/>
<rect x="627" y="383" width="1" height="102" fill="#000090"/>
<rect x="631" y="384" width="1" height="101" fill="#000090"/>
<rect x="635" y="390" width="1" height="95" fill="#000090"/>
<rect x="639" y="398" width="1" height="87" fill="#000090"/>
<rect x="643" y="404" width="1" height="81" fill="#000090"/>
<rect x="647" y="410" width="1" height="75" fill="#000090"/>
<rect x="651" y="414" width="1" height="71" fill="#000090"/>
<rect x="655" y="417" width="1" height="68" fill="#000090"/>
<rect x="659" y="421" width="1" height="64" fill="#000090"/>
<rect x="663" y="427" width="1" height="58" fill="#000090"/>
<rect x="667" y="435" width="1" height="50" fill="#000090"/>
<rect x="671" y="442" width="1" height="43" fill="#000090"/>
<rect x="675" y="447" width="1" height="38" fill="#000090"/>
<rect x="679" y="451" width="1" height="34" fill="#000090"/>
<rect x="683" y="457" width="1" height="28" fill="#000090"/>
<rect x="687" y="464" width="1" height="21" fill="#000090"/>
<rect x="691" y="466" width="1" height="19" fill="#000090"/>
<rect x="695" y="468" width="1" height="17" fill="#000090"/>
<rect x="699" y="472" width="1" height="13" fill="#000090"/>
<rect x="703" y="481" width="1" height="4" fill="#000090"/>
<rect x="707" y="484" width="1" height="13" fill="#000090"/>
<rect x="711" y="484" width="1" height="33" fill="#000090"/>
<rect x="715" y="484" width="1" height="42" fill="#000090"/>
<rect x="719" y="484" width="1" height="48" fill="#000090"/>
<rect x="723" y="484" width="1" height="53" fill="#000090"/>
<rect x="727" y="484" width="1" height="54" fill="#000090"/>
<rect x="731" y="484" width="1" height="55" fill="#000090"/>
<rect x="735" y="484" width="1" height="50" fill="#000090"/>
<rect x="739" y="484" width="1" height="39" fill="#000090"/>
<rect x="743" y="484" width="1" height="32" fill="#000090"/>
<rect x="747" y="484" width="1" height="26" fill="#000090"/>
<rect x="751" y="484" width="1" height="22" fill="#000090"/>
<rect x="755" y="484" width="1" height="19" fill="#000090"/>
<rect x="759" y="484" width="1" height="17" fill="#000090"/>
<rect x="763" y="484" width="1" height="15" fill="#000090"/>
<rect x="767" y="484" width="1" height="13" fill="#000090"/>
<rect x="771" y="484" width="1" height="9" fill="#000090"/>
<rect x="775" y="484" width="1" height="6" fill="#000090"/>
<rect x="779" y="484" width="1" height="4" fill="#000090"/>
<rect x="783" y="484" width="1" height="1" fill="#000090"/>
<rect x="787" y="479" width="1" height="6" fill="#000090"/>
<rect x="791" y="474" width="1" height="11" fill="#000090"/>
<rect x="795" y="472" width="1" height="13" fill="#000090"/>
<rect x="799" y="474" width="1" height="11" fill="#000090"/>
<rect x="803" y="472" width="1" height="13" fill="#000090"/>
<rect x="807" y="466" width="1" height="19" fill="#000090"/>
<rect x="811" y="462" width="1" height="23" fill="#000090"/>
<rect x="815" y="458" width="1" height="27" fill="#000090"/>
<rect x="819" y="453" width="1" height="32" fill="#000090"/>
<rect x="823" y="449" width="1" height="36" fill="#000090"/>
<rect x="827" y="447" width="1" height="38" fill="#000090"/>
<rect x="831" y="447" width="1" height="38" fill="#000090"/>
<rect x="835" y="449" width="1" height="36" fill="#000090"/>
<rect x="839" y="449" width="1" height="36" fill="#000090"/>
<rect x="843" y="449" width="1" height="36" fill="#000090"/>
<rect x="847" y="449" width="1" height="36" fill="#000090"/>
<rect x="851" y="444" width="1" height="41" fill="#000090"/>
<rect x="855" y="433" width="1" height="52" fill="#000090"/>
<rect x="859" y="424" width="1" height="61" fill="#000090"/>
<rect x="863" y="419" width="1" height="66" fill="#000090"/>
<rect x="867" y="417" width="1" height="68" fill="#000090"/>
<rect x="871" y="419" width="1" height="66" fill="#000090"/>
<rect x="875" y="423" width="1" height="62" fill="#000090"/>
<rect x="879" y="428" width="1" height="57" fill="#000090"/>
<rect x="883" y="434" width="1" height="51" fill="#000090"/>
<rect x="887" y="439" width="1" height="46" fill="#000090"/>
<rect x="891" y="443" width="1" height="42" fill="#000090"/>
<rect x="895" y="444" width="1" height="41" fill="#000090"/>
<rect x="899" y="445" width="1" height="40" fill="#000090"/>
<rect x="903" y="457" width="1" height="28" fill="#000090"/>
<rect x="907" y="467" width="1" height="18" fill="#000090"/>
<rect x="911" y="474" width="1" height="11" fill="#000090"/>
<rect x="915" y="480" width="1" height="5" fill="#000090"/>
<rect x="919" y="483" width="1" height="2" fill="#000090"/>
<rect x="923" y="484" width="1" height="1" fill="#000090"/>
<rect x="927" y="484" width="1" height="1" fill="#000090"/>
<rect x="931" y="482" width="1" height="3" fill="#000090"/>
<rect x="935" y="481" width="1" height="4" fill="#000090"/>
<rect x="939" y="480" width="1" height="5" fill="#000090"/>
<rect x="943" y="479" width="1" height="6" fill="#000090"/>
<rect x="947" y="476" width="1" height="9" fill="#000090"/>
<rect x="951" y="470" width="1" height="15" fill="#000090"/>
<rect x="955" y="457" width="1" height="28" fill="#000090"/>
<rect x="959" y="447" width="1" height="38" fill="#000090"/>
<rect x="963" y="438" width="1" height="47" fill="#000090"/>
<rect x="967" y="433" width="1" height="52" fill="#000090"/>
<rect x="971" y="417" width="1" height="68" fill="#000090"/>
<rect x="975" y="415" width="1" height="70" fill="#000090"/>
<rect x="979" y="426" width="1" height="59" fill="#000090"/>
<rect x="983" y="433" width="1" height="52" fill="#000090"/>
<rect x="987" y="442" width="1" height="43" fill="#000090"/>
<rect x="991" y="448" width="1" height="37" fill="#000090"/>
<rect x="995" y="450" width="1" height="35" fill="#000090"/>
<path d="M583 377h1v2h-1zM582 378h1v2h-1zM584 379h1v2h-1zM218 380h6v1h-6zM581 380h1v1h-1zM215 381h3v1h-3zM224 381h1v2h-1zM580 381h1v2h-1zM585 381h1v2h-1zM213 382h2v1h-2zM627 382h3v1h-3zM211 383h2v1h-2zM579 383h1v1h-1zM626 383h1v1h-1zM630 383h2v1h-2zM225 383h1v2h-1zM586 383h1v2h-1zM210 384h1v1h-1zM624 384h2v1h-2zM578 384h1v2h-1zM632 384h1v2h-1zM209 385h1v1h-1zM226 385h1v2h-1zM587 385h1v2h-1zM623 385h1v2h-1zM208 386h1v1h-1zM633 386h1v1h-1zM577 386h1v2h-1zM207 387h1v1h-1zM227 387h1v1h-1zM634 387h1v2h-1zM588 387h1v3h-1zM622 387h1v4h-1zM205 388h2v1h-2zM228 388h1v1h-1zM576 388h1v2h-1zM203 389h2v1h-2zM229 389h1v2h-1zM635 389h1v2h-1zM202 390h1v2h-1zM575 390h1v2h-1zM589 390h1v3h-1zM230 391h1v1h-1zM636 391h1v2h-1zM621 391h1v4h-1zM201 392h1v1h-1zM231 392h1v1h-1zM574 392h1v2h-1zM200 393h1v2h-1zM232 393h1v2h-1zM637 393h1v2h-1zM590 393h1v3h-1zM573 394h1v2h-1zM233 395h1v1h-1zM199 395h1v2h-1zM638 395h1v2h-1zM620 395h1v4h-1zM234 396h1v2h-1zM572 396h1v2h-1zM591 396h1v3h-1zM639 397h1v1h-1zM198 397h1v2h-1zM235 398h1v1h-1zM571 398h1v1h-1zM640 398h1v2h-1zM569 399h2v1h-2zM236 399h1v2h-1zM592 399h1v2h-1zM619 399h1v2h-1zM197 399h1v3h-1zM567 400h2v1h-2zM641 400h1v1h-1zM566 401h1v1h-1zM617 401h2v1h-2zM237 401h1v2h-1zM642 401h1v2h-1zM593 401h1v3h-1zM615 402h2v1h-2zM196 402h1v2h-1zM565 402h1v2h-1zM643 403h1v1h-1zM238 403h1v2h-1zM614 403h1v2h-1zM564 404h1v1h-1zM594 404h1v2h-1zM644 404h1v2h-1zM195 404h1v3h-1zM239 405h1v1h-1zM563 405h1v2h-1zM613 405h1v2h-1zM645 406h1v1h-1zM240 406h1v2h-1zM595 406h1v2h-1zM612 407h1v2h-1zM646 407h1v2h-1zM194 407h1v3h-1zM562 407h1v3h-1zM241 408h1v1h-1zM596 408h1v2h-1zM647 409h1v1h-1zM242 409h1v2h-1zM611 409h1v2h-1zM597 410h1v1h-1zM648 410h1v1h-1zM193 410h1v4h-1zM561 410h1v4h-1zM610 411h1v1h-1zM649 411h1v1h-1zM243 411h1v2h-1zM598 411h1v2h-1zM609 412h1v1h-1zM650 412h1v1h-1zM599 413h3v1h-3zM608 413h1v1h-1zM651 413h1v1h-1zM244 413h1v2h-1zM602 414h6v1h-6zM652 414h2v1h-2zM975 414h1v2h-1zM192 414h1v3h-1zM560 414h1v3h-1zM654 415h1v1h-1zM973 415h2v1h-2zM245 415h1v2h-1zM655 416h1v1h-1zM867 416h2v1h-2zM972 416h1v1h-1zM971 416h1v2h-1zM976 416h1v3h-1zM656 417h1v1h-1zM865 417h2v1h-2zM869 417h2v1h-2zM246 417h1v2h-1zM191 417h1v3h-1zM559 417h1v3h-1zM250 418h2v1h-2zM657 418h1v1h-1zM863 418h2v1h-2zM871 418h1v1h-1zM970 418h1v4h-1zM247 419h3v1h-3zM658 419h1v1h-1zM862 419h1v1h-1zM872 419h1v1h-1zM252 419h1v2h-1zM977 419h1v2h-1zM659 420h1v1h-1zM873 420h1v1h-1zM861 420h1v2h-1zM190 420h1v4h-1zM558 420h1v4h-1zM874 421h1v1h-1zM253 421h1v2h-1zM660 421h1v2h-1zM978 421h1v3h-1zM860 422h1v1h-1zM875 422h1v1h-1zM969 422h1v4h-1zM661 423h1v1h-1zM876 423h1v1h-1zM254 423h1v2h-1zM859 423h1v2h-1zM662 424h1v2h-1zM877 424h1v2h-1zM979 424h1v2h-1zM189 424h1v4h-1zM557 424h1v4h-1zM255 425h1v1h-1zM858 425h1v2h-1zM878 426h1v1h-1zM256 426h1v2h-1zM663 426h1v2h-1zM980 426h1v2h-1zM968 426h1v4h-1zM879 427h1v1h-1zM857 427h1v2h-1zM257 428h1v2h-1zM664 428h1v2h-1zM880 428h1v2h-1zM981 428h1v2h-1zM188 428h1v4h-1zM556 428h1v4h-1zM856 429h1v2h-1zM881 430h1v1h-1zM258 430h1v2h-1zM665 430h1v2h-1zM982 430h1v2h-1zM967 430h1v3h-1zM882 431h1v2h-1zM855 431h1v3h-1zM259 432h1v1h-1zM666 432h1v2h-1zM983 432h1v2h-1zM187 432h1v4h-1zM555 432h1v4h-1zM260 433h1v1h-1zM883 433h1v1h-1zM966 433h1v1h-1zM261 434h1v1h-1zM667 434h1v1h-1zM884 434h1v1h-1zM965 434h1v2h-1zM984 434h1v2h-1zM854 434h1v3h-1zM262 435h1v1h-1zM283 435h6v1h-6zM668 435h1v2h-1zM885 435h1v2h-1zM263 436h1v1h-1zM281 436h2v1h-2zM289 436h2v1h-2zM964 436h1v1h-1zM985 436h1v2h-1zM554 436h1v3h-1zM186 436h1v4h-1zM264 437h1v1h-1zM278 437h3v1h-3zM291 437h1v1h-1zM886 437h1v1h-1zM669 437h1v2h-1zM853 437h1v2h-1zM963 437h1v2h-1zM265 438h1v1h-1zM275 438h3v1h-3zM887 438h1v1h-1zM292 438h1v2h-1zM986 438h1v2h-1zM266 439h1v1h-1zM273 439h2v1h-2zM888 439h1v1h-1zM670 439h1v2h-1zM962 439h1v2h-1zM553 439h1v3h-1zM852 439h1v3h-1zM267 440h6v1h-6zM293 440h1v1h-1zM371 440h2v1h-2zM889 440h1v1h-1zM987 440h1v2h-1zM185 440h1v4h-1zM163 441h2v1h-2zM373 441h2v1h-2zM671 441h1v1h-1zM890 441h1v1h-1zM294 441h1v2h-1zM370 441h1v2h-1zM961 441h1v2h-1zM161 442h2v1h-2zM165 442h2v1h-2zM375 442h3v1h-3zM672 442h1v1h-1zM891 442h3v1h-3zM851 442h1v2h-1zM988 442h1v2h-1zM552 442h1v3h-1zM143 443h1v1h-1zM158 443h3v1h-3zM167 443h1v1h-1zM295 443h1v1h-1zM369 443h1v1h-1zM378 443h4v1h-4zM894 443h4v1h-4zM673 443h1v2h-1zM960 443h1v2h-1zM142 444h1v1h-1zM144 444h2v1h-2zM155 444h3v1h-3zM168 444h1v1h-1zM296 444h1v1h-1zM382 444h2v1h-2zM850 444h1v1h-1zM898 444h1v1h-1zM989 444h1v1h-1zM368 444h1v2h-1zM899 444h1v2h-1zM184 444h1v4h-1zM140 445h2v1h-2zM146 445h1v1h-1zM153 445h2v1h-2zM169 445h1v1h-1zM297 445h1v1h-1zM384 445h2v1h-2zM674 445h1v1h-1zM551 445h1v2h-1zM849 445h1v2h-1zM990 445h1v2h-1zM959 445h1v3h-1zM139 446h1v1h-1zM147 446h6v1h-6zM170 446h1v1h-1zM298 446h1v1h-1zM366 446h2v1h-2zM386 446h1v1h-1zM675 446h1v1h-1zM827 446h6v1h-6zM900 446h1v3h-1zM137 447h2v1h-2zM171 447h2v1h-2zM299 447h1v1h-1zM362 447h4v1h-4zM550 447h1v1h-1zM676 447h1v1h-1zM825 447h2v1h-2zM833 447h2v1h-2zM848 447h1v1h-1zM991 447h2v1h-2zM387 447h1v3h-1zM135 448h2v1h-2zM173 448h2v1h-2zM300 448h2v1h-2zM359 448h3v1h-3zM677 448h1v1h-1zM823 448h2v1h-2zM835 448h13v1h-13zM993 448h2v1h-2zM549 448h1v2h-1zM958 448h1v2h-1zM183 448h1v3h-1zM134 449h1v1h-1zM175 449h7v1h-7zM302 449h1v1h-1zM358 449h1v1h-1zM678 449h1v1h-1zM822 449h1v1h-1zM995 449h1v1h-1zM901 449h1v3h-1zM133 450h1v1h-1zM182 450h1v1h-1zM303 450h1v1h-1zM356 450h2v1h-2zM548 450h1v1h-1zM679 450h1v1h-1zM821 450h1v1h-1zM957 450h1v3h-1zM388 450h1v4h-1zM132 451h1v1h-1zM346 451h2v1h-2zM355 451h1v1h-1zM547 451h1v1h-1zM820 451h1v1h-1zM304 451h1v2h-1zM680 451h1v2h-1zM131 452h1v1h-1zM343 452h3v1h-3zM348 452h2v1h-2zM354 452h1v1h-1zM819 452h1v1h-1zM546 452h1v2h-1zM902 452h1v3h-1zM130 453h1v1h-1zM305 453h1v1h-1zM342 453h1v1h-1zM350 453h1v1h-1zM352 453h2v1h-2zM681 453h1v1h-1zM818 453h1v1h-1zM956 453h1v2h-1zM128 454h2v1h-2zM340 454h2v1h-2zM351 454h1v1h-1zM306 454h1v2h-1zM545 454h1v2h-1zM682 454h1v2h-1zM817 454h1v2h-1zM389 454h1v5h-1zM127 455h1v1h-1zM339 455h1v1h-1zM63 455h1v2h-1zM903 455h1v3h-1zM955 455h1v3h-1zM62 456h1v1h-1zM126 456h1v1h-1zM307 456h2v1h-2zM338 456h1v1h-1zM683 456h1v1h-1zM816 456h1v1h-1zM544 456h1v2h-1zM61 457h1v1h-1zM125 457h1v1h-1zM309 457h2v1h-2zM336 457h2v1h-2zM815 457h1v1h-1zM684 457h1v2h-1zM64 457h1v4h-1zM60 458h1v1h-1zM124 458h1v1h-1zM311 458h7v1h-7zM322 458h4v1h-4zM335 458h1v1h-1zM814 458h1v1h-1zM543 458h1v2h-1zM904 458h1v2h-1zM954 458h1v3h-1zM59 459h1v1h-1zM119 459h5v1h-5zM318 459h4v1h-4zM326 459h3v1h-3zM334 459h1v1h-1zM813 459h1v1h-1zM685 459h1v2h-1zM390 459h1v4h-1zM58 460h1v1h-1zM118 460h1v1h-1zM329 460h2v1h-2zM332 460h2v1h-2zM542 460h1v1h-1zM812 460h1v1h-1zM905 460h1v3h-1zM57 461h1v1h-1zM117 461h1v1h-1zM331 461h1v1h-1zM811 461h1v1h-1zM541 461h1v2h-1zM686 461h1v2h-1zM65 461h1v3h-1zM953 461h1v4h-1zM56 462h1v1h-1zM116 462h1v1h-1zM810 462h1v1h-1zM55 463h1v1h-1zM115 463h1v1h-1zM540 463h1v1h-1zM687 463h2v1h-2zM809 463h1v1h-1zM906 463h1v2h-1zM391 463h1v4h-1zM54 464h1v1h-1zM114 464h1v1h-1zM539 464h1v1h-1zM689 464h2v1h-2zM808 464h1v1h-1zM66 464h1v4h-1zM53 465h1v1h-1zM113 465h1v1h-1zM538 465h1v1h-1zM691 465h2v1h-2zM807 465h1v1h-1zM907 465h1v2h-1zM952 465h1v3h-1zM52 466h1v1h-1zM112 466h1v1h-1zM537 466h1v1h-1zM693 466h2v1h-2zM806 466h1v2h-1zM111 467h1v1h-1zM536 467h1v1h-1zM695 467h1v1h-1zM51 467h1v2h-1zM908 467h1v2h-1zM392 467h1v4h-1zM110 468h1v1h-1zM535 468h1v1h-1zM696 468h1v1h-1zM805 468h1v1h-1zM67 468h1v2h-1zM951 468h1v2h-1zM109 469h1v1h-1zM534 469h1v1h-1zM697 469h1v1h-1zM50 469h1v2h-1zM804 469h1v2h-1zM909 469h1v2h-1zM108 470h1v1h-1zM533 470h1v1h-1zM698 470h1v1h-1zM68 470h1v2h-1zM950 470h1v2h-1zM107 471h1v1h-1zM532 471h1v1h-1zM795 471h2v1h-2zM803 471h1v1h-1zM49 471h1v2h-1zM699 471h1v2h-1zM910 471h1v2h-1zM393 471h1v3h-1zM531 472h1v1h-1zM793 472h2v1h-2zM797 472h2v1h-2zM801 472h2v1h-2zM949 472h1v1h-1zM69 472h1v2h-1zM106 472h1v2h-1zM530 473h1v1h-1zM791 473h2v1h-2zM799 473h2v1h-2zM911 473h1v1h-1zM48 473h1v2h-1zM700 473h1v2h-1zM948 473h1v2h-1zM105 474h1v1h-1zM790 474h1v1h-1zM70 474h1v2h-1zM529 474h1v2h-1zM912 474h1v2h-1zM394 474h1v4h-1zM947 475h1v1h-1zM47 475h1v2h-1zM104 475h1v2h-1zM701 475h1v2h-1zM789 475h1v2h-1zM71 476h1v1h-1zM528 476h1v1h-1zM913 476h1v1h-1zM946 476h1v1h-1zM103 477h1v1h-1zM527 477h1v1h-1zM788 477h1v1h-1zM944 477h2v1h-2zM46 477h1v2h-1zM72 477h1v2h-1zM702 477h1v2h-1zM914 477h1v2h-1zM102 478h1v1h-1zM787 478h1v1h-1zM942 478h2v1h-2zM526 478h1v2h-1zM395 478h1v3h-1zM73 479h1v1h-1zM100 479h2v1h-2zM786 479h1v1h-1zM915 479h1v1h-1zM938 479h4v1h-4zM45 479h1v2h-1zM703 479h1v4h-1zM99 480h1v1h-1zM525 480h1v1h-1zM916 480h2v1h-2zM934 480h4v1h-4zM74 480h1v2h-1zM785 480h1v2h-1zM78 481h4v1h-4zM98 481h1v1h-1zM918 481h1v1h-1zM931 481h3v1h-3zM44 481h1v2h-1zM396 481h1v2h-1zM524 481h1v2h-1zM27 482h1v1h-1zM75 482h3v1h-3zM82 482h4v1h-4zM96 482h2v1h-2zM784 482h1v1h-1zM919 482h3v1h-3zM929 482h2v1h-2zM43 483h1v1h-1zM86 483h10v1h-10zM783 483h1v1h-1zM922 483h7v1h-7zM26 483h1v2h-1zM28 483h1v2h-1zM523 483h1v2h-1zM397 483h1v3h-1zM704 483h1v4h-1zM42 484h1v1h-1zM782 484h1v1h-1zM25 485h1v1h-1zM29 485h1v1h-1zM41 485h1v1h-1zM522 485h1v2h-1zM781 485h1v2h-1zM40 486h1v1h-1zM24 486h1v2h-1zM30 486h1v2h-1zM398 486h1v2h-1zM39 487h1v1h-1zM780 487h1v1h-1zM521 487h1v2h-1zM705 487h1v4h-1zM23 488h1v1h-1zM31 488h3v1h-3zM37 488h2v1h-2zM779 488h1v1h-1zM399 488h1v3h-1zM22 489h1v1h-1zM34 489h3v1h-3zM777 489h2v1h-2zM520 489h1v2h-1zM21 490h1v1h-1zM474 490h1v1h-1zM775 490h2v1h-2zM475 490h1v2h-1zM20 491h1v1h-1zM471 491h3v1h-3zM774 491h1v1h-1zM400 491h1v2h-1zM519 491h1v2h-1zM706 491h1v4h-1zM19 492h1v1h-1zM772 492h2v1h-2zM470 492h1v2h-1zM476 492h1v2h-1zM18 493h1v1h-1zM518 493h1v1h-1zM771 493h1v1h-1zM401 493h1v2h-1zM17 494h1v1h-1zM469 494h1v1h-1zM770 494h1v1h-1zM477 494h1v2h-1zM517 494h1v2h-1zM16 495h1v1h-1zM769 495h1v1h-1zM402 495h1v2h-1zM468 495h1v2h-1zM707 495h1v5h-1zM15 496h1v1h-1zM516 496h1v1h-1zM768 496h1v1h-1zM478 496h1v2h-1zM13 497h2v1h-2zM467 497h1v1h-1zM510 497h6v1h-6zM767 497h1v1h-1zM403 497h1v2h-1zM11 498h2v1h-2zM466 498h1v1h-1zM479 498h1v1h-1zM506 498h4v1h-4zM765 498h2v1h-2zM9 499h2v1h-2zM480 499h2v1h-2zM503 499h3v1h-3zM763 499h2v1h-2zM404 499h1v2h-1zM465 499h1v2h-1zM7 500h2v1h-2zM482 500h1v1h-1zM501 500h2v1h-2zM761 500h2v1h-2zM708 500h1v5h-1zM6 501h1v1h-1zM464 501h1v1h-1zM483 501h2v1h-2zM498 501h3v1h-3zM759 501h2v1h-2zM405 501h1v2h-1zM463 502h1v1h-1zM485 502h2v1h-2zM495 502h3v1h-3zM757 502h2v1h-2zM5 502h1v2h-1zM487 503h2v1h-2zM494 503h1v1h-1zM755 503h2v1h-2zM406 503h1v2h-1zM462 503h1v2h-1zM4 504h1v1h-1zM489 504h2v1h-2zM492 504h2v1h-2zM754 504h1v1h-1zM3 505h1v1h-1zM491 505h1v1h-1zM752 505h2v1h-2zM407 505h1v2h-1zM461 505h1v2h-1zM709 505h1v5h-1zM751 506h1v1h-1zM750 507h1v1h-1zM408 507h1v2h-1zM460 507h1v2h-1zM749 508h1v1h-1zM748 509h1v1h-1zM409 509h1v2h-1zM459 509h1v2h-1zM747 510h1v1h-1zM710 510h1v5h-1zM410 511h1v2h-1zM458 511h1v2h-1zM746 511h1v2h-1zM745 513h1v1h-1zM411 513h1v2h-1zM457 513h1v2h-1zM744 514h1v2h-1zM412 515h1v2h-1zM456 515h1v2h-1zM711 515h1v4h-1zM743 516h1v1h-1zM413 517h1v1h-1zM742 517h1v2h-1zM455 517h1v3h-1zM414 518h1v2h-1zM712 519h1v2h-1zM741 519h1v2h-1zM415 520h1v1h-1zM454 520h1v3h-1zM416 521h2v1h-2zM713 521h1v2h-1zM740 521h1v2h-1zM418 522h1v1h-1zM419 523h3v1h-3zM453 523h1v2h-1zM714 523h1v2h-1zM739 523h1v2h-1zM422 524h7v1h-7zM429 525h2v1h-2zM438 525h4v1h-4zM715 525h1v2h-1zM452 525h1v3h-1zM738 525h1v3h-1zM431 526h7v1h-7zM442 526h4v1h-4zM446 527h3v1h-3zM716 527h1v2h-1zM449 528h2v1h-2zM451 528h1v2h-1zM737 528h1v2h-1zM717 529h1v1h-1zM718 530h1v2h-1zM736 530h1v3h-1zM719 532h1v1h-1zM720 533h1v1h-1zM735 533h1v2h-1zM721 534h1v2h-1zM734 535h1v1h-1zM722 536h1v1h-1zM733 536h1v2h-1zM723 537h3v1h-3zM726 538h4v1h-4zM732 538h1v1h-1zM730 539h2v1h-2z" fill="#c8c8c8"/>
<path d="M230 387h7v1h-7zM227 388h3v1h-3zM237 388h2v1h-2zM226 389h1v1h-1zM239 389h1v1h-1zM225 390h1v1h-1zM240 390h2v1h-2zM224 391h1v1h-1zM242 391h1v1h-1zM223 392h1v1h-1zM243 392h1v1h-1zM244 393h1v1h-1zM222 393h1v2h-1zM245 394h1v1h-1zM221 395h1v1h-1zM246 395h1v1h-1zM594 395h4v1h-4zM646 395h3v1h-3zM247 396h1v1h-1zM591 396h3v1h-3zM598 396h4v1h-4zM642 396h4v1h-4zM649 396h2v1h-2zM220 396h1v2h-1zM248 397h1v1h-1zM590 397h1v1h-1zM602 397h3v1h-3zM639 397h3v1h-3zM651 397h3v1h-3zM219 398h1v1h-1zM249 398h1v1h-1zM589 398h1v1h-1zM605 398h2v1h-2zM637 398h2v1h-2zM654 398h2v1h-2zM250 399h1v1h-1zM588 399h1v1h-1zM607 399h2v1h-2zM635 399h2v1h-2zM656 399h1v1h-1zM218 399h1v2h-1zM251 400h1v1h-1zM587 400h1v1h-1zM609 400h2v1h-2zM633 400h2v1h-2zM657 400h1v1h-1zM252 401h1v1h-1zM611 401h2v1h-2zM631 401h2v1h-2zM658 401h1v1h-1zM217 401h1v2h-1zM586 401h1v2h-1zM613 402h2v1h-2zM630 402h1v1h-1zM659 402h1v1h-1zM253 402h1v2h-1zM615 403h1v1h-1zM628 403h2v1h-2zM660 403h1v1h-1zM216 403h1v2h-1zM585 403h1v2h-1zM254 404h1v1h-1zM616 404h2v1h-2zM627 404h1v1h-1zM661 404h1v2h-1zM255 405h1v1h-1zM618 405h1v1h-1zM625 405h2v1h-2zM215 405h1v2h-1zM584 405h1v2h-1zM619 406h6v1h-6zM662 406h1v1h-1zM256 406h1v2h-1zM583 407h1v1h-1zM663 407h1v1h-1zM214 407h1v2h-1zM257 408h1v1h-1zM582 408h1v2h-1zM664 408h1v2h-1zM213 409h1v2h-1zM258 409h1v2h-1zM665 410h1v1h-1zM581 410h1v2h-1zM259 411h1v1h-1zM212 411h1v2h-1zM666 411h1v2h-1zM260 412h1v1h-1zM580 412h1v2h-1zM211 413h1v1h-1zM667 413h1v1h-1zM261 413h1v2h-1zM210 414h1v2h-1zM579 414h1v2h-1zM668 414h1v2h-1zM262 415h1v1h-1zM263 416h1v1h-1zM669 416h1v1h-1zM209 416h1v2h-1zM578 416h1v2h-1zM264 417h1v1h-1zM670 417h1v2h-1zM208 418h1v2h-1zM265 418h1v2h-1zM577 418h1v2h-1zM671 419h1v1h-1zM207 420h1v1h-1zM266 420h1v1h-1zM672 420h1v1h-1zM576 420h1v2h-1zM267 421h1v1h-1zM206 421h1v2h-1zM673 421h1v2h-1zM268 422h1v1h-1zM575 422h1v2h-1zM674 423h1v1h-1zM205 423h1v2h-1zM269 423h1v2h-1zM675 424h1v1h-1zM574 424h1v2h-1zM270 425h1v1h-1zM676 425h1v1h-1zM204 425h1v2h-1zM271 426h1v1h-1zM886 426h4v1h-4zM573 426h1v2h-1zM677 426h1v2h-1zM203 427h1v1h-1zM272 427h1v1h-1zM883 427h3v1h-3zM890 427h2v1h-2zM273 428h1v1h-1zM678 428h1v1h-1zM881 428h2v1h-2zM892 428h2v1h-2zM202 428h1v2h-1zM572 428h1v2h-1zM274 429h1v1h-1zM679 429h1v1h-1zM879 429h2v1h-2zM894 429h1v1h-1zM201 430h1v1h-1zM275 430h1v1h-1zM877 430h2v1h-2zM895 430h1v1h-1zM571 430h1v2h-1zM680 430h1v2h-1zM276 431h2v1h-2zM875 431h2v1h-2zM896 431h2v1h-2zM200 431h1v2h-1zM278 432h1v1h-1zM681 432h1v1h-1zM874 432h1v1h-1zM898 432h1v1h-1zM570 432h1v2h-1zM199 433h1v1h-1zM279 433h3v1h-3zM872 433h2v1h-2zM899 433h1v1h-1zM990 433h4v1h-4zM682 433h1v2h-1zM198 434h1v1h-1zM282 434h3v1h-3zM871 434h1v1h-1zM900 434h1v1h-1zM987 434h3v1h-3zM994 434h2v1h-2zM569 434h1v2h-1zM285 435h2v1h-2zM683 435h1v1h-1zM870 435h1v1h-1zM901 435h1v1h-1zM986 435h1v1h-1zM197 435h1v2h-1zM287 436h2v1h-2zM684 436h1v1h-1zM868 436h2v1h-2zM902 436h1v1h-1zM984 436h2v1h-2zM568 436h1v2h-1zM196 437h1v1h-1zM289 437h2v1h-2zM867 437h1v1h-1zM903 437h1v1h-1zM983 437h1v1h-1zM685 437h1v2h-1zM195 438h1v1h-1zM291 438h3v1h-3zM866 438h1v1h-1zM904 438h1v1h-1zM982 438h1v1h-1zM567 438h1v2h-1zM194 439h1v1h-1zM294 439h4v1h-4zM686 439h1v1h-1zM864 439h2v1h-2zM905 439h1v2h-1zM981 439h1v2h-1zM193 440h1v1h-1zM298 440h4v1h-4zM687 440h1v1h-1zM863 440h1v1h-1zM566 440h1v2h-1zM192 441h1v1h-1zM302 441h3v1h-3zM862 441h1v1h-1zM906 441h1v1h-1zM980 441h1v1h-1zM688 441h1v2h-1zM191 442h1v1h-1zM305 442h2v1h-2zM861 442h1v1h-1zM907 442h1v1h-1zM979 442h1v1h-1zM565 442h1v2h-1zM190 443h1v1h-1zM307 443h2v1h-2zM689 443h1v1h-1zM860 443h1v1h-1zM908 443h1v2h-1zM978 443h1v2h-1zM188 444h2v1h-2zM309 444h2v1h-2zM859 444h1v1h-1zM564 444h1v2h-1zM690 444h1v2h-1zM166 445h8v1h-8zM187 445h1v1h-1zM311 445h2v1h-2zM857 445h2v1h-2zM909 445h1v1h-1zM977 445h1v1h-1zM163 446h3v1h-3zM174 446h8v1h-8zM185 446h2v1h-2zM313 446h2v1h-2zM386 446h3v1h-3zM691 446h1v1h-1zM855 446h2v1h-2zM563 446h1v2h-1zM910 446h1v2h-1zM976 446h1v2h-1zM161 447h2v1h-2zM182 447h3v1h-3zM315 447h1v1h-1zM382 447h4v1h-4zM389 447h2v1h-2zM692 447h1v1h-1zM854 447h1v1h-1zM159 448h2v1h-2zM316 448h2v1h-2zM378 448h4v1h-4zM391 448h1v1h-1zM852 448h2v1h-2zM911 448h1v1h-1zM975 448h1v1h-1zM562 448h1v2h-1zM693 448h1v2h-1zM157 449h2v1h-2zM318 449h1v1h-1zM374 449h4v1h-4zM392 449h2v1h-2zM850 449h2v1h-2zM912 449h1v2h-1zM974 449h1v2h-1zM154 450h3v1h-3zM319 450h2v1h-2zM371 450h3v1h-3zM394 450h1v1h-1zM694 450h1v1h-1zM846 450h4v1h-4zM561 450h1v2h-1zM151 451h3v1h-3zM321 451h2v1h-2zM369 451h2v1h-2zM395 451h1v1h-1zM695 451h1v1h-1zM843 451h3v1h-3zM913 451h1v1h-1zM973 451h1v2h-1zM149 452h2v1h-2zM323 452h1v1h-1zM367 452h2v1h-2zM396 452h1v1h-1zM696 452h1v1h-1zM841 452h2v1h-2zM560 452h1v2h-1zM914 452h1v2h-1zM147 453h2v1h-2zM324 453h2v1h-2zM365 453h2v1h-2zM839 453h2v1h-2zM397 453h1v2h-1zM697 453h1v2h-1zM972 453h1v2h-1zM146 454h1v1h-1zM326 454h1v1h-1zM362 454h3v1h-3zM838 454h1v1h-1zM915 454h1v1h-1zM559 454h1v2h-1zM144 455h2v1h-2zM327 455h2v1h-2zM358 455h4v1h-4zM398 455h1v1h-1zM698 455h1v1h-1zM836 455h2v1h-2zM916 455h1v1h-1zM971 455h1v1h-1zM143 456h1v1h-1zM329 456h2v1h-2zM354 456h4v1h-4zM399 456h1v1h-1zM699 456h1v1h-1zM835 456h1v1h-1zM558 456h1v2h-1zM917 456h1v2h-1zM970 456h1v2h-1zM142 457h1v1h-1zM331 457h3v1h-3zM350 457h4v1h-4zM400 457h1v1h-1zM700 457h1v1h-1zM834 457h1v1h-1zM140 458h2v1h-2zM334 458h4v1h-4zM342 458h8v1h-8zM832 458h2v1h-2zM918 458h1v1h-1zM401 458h1v2h-1zM557 458h1v2h-1zM701 458h1v2h-1zM969 458h1v2h-1zM139 459h1v1h-1zM338 459h4v1h-4zM831 459h1v1h-1zM919 459h1v1h-1zM138 460h1v1h-1zM402 460h1v1h-1zM702 460h1v1h-1zM830 460h1v1h-1zM920 460h1v1h-1zM556 460h1v2h-1zM968 460h1v2h-1zM136 461h2v1h-2zM403 461h1v1h-1zM703 461h1v1h-1zM828 461h2v1h-2zM921 461h1v2h-1zM135 462h1v1h-1zM555 462h1v1h-1zM827 462h1v1h-1zM967 462h1v1h-1zM404 462h1v2h-1zM704 462h1v2h-1zM134 463h1v1h-1zM825 463h2v1h-2zM922 463h1v1h-1zM554 463h1v2h-1zM966 463h1v2h-1zM133 464h1v1h-1zM705 464h1v1h-1zM823 464h2v1h-2zM923 464h1v1h-1zM405 464h1v2h-1zM132 465h1v1h-1zM822 465h1v1h-1zM924 465h1v1h-1zM965 465h1v1h-1zM553 465h1v2h-1zM706 465h1v2h-1zM131 466h1v1h-1zM821 466h1v1h-1zM406 466h1v2h-1zM925 466h1v2h-1zM964 466h1v2h-1zM130 467h1v1h-1zM820 467h1v1h-1zM552 467h1v2h-1zM707 467h1v2h-1zM128 468h2v1h-2zM819 468h1v1h-1zM926 468h1v1h-1zM963 468h1v1h-1zM407 468h1v2h-1zM127 469h1v1h-1zM551 469h1v1h-1zM818 469h1v1h-1zM927 469h1v1h-1zM962 469h1v1h-1zM708 469h1v2h-1zM126 470h1v1h-1zM550 470h1v1h-1zM816 470h2v1h-2zM928 470h1v1h-1zM408 470h1v2h-1zM961 470h1v2h-1zM71 471h14v1h-14zM124 471h2v1h-2zM815 471h1v1h-1zM929 471h1v1h-1zM549 471h1v2h-1zM709 471h1v2h-1zM69 472h2v1h-2zM85 472h2v1h-2zM123 472h1v1h-1zM814 472h1v1h-1zM930 472h1v1h-1zM960 472h1v1h-1zM409 472h1v2h-1zM66 473h3v1h-3zM87 473h2v1h-2zM122 473h1v1h-1zM548 473h1v1h-1zM812 473h2v1h-2zM931 473h1v1h-1zM959 473h1v1h-1zM710 473h1v2h-1zM63 474h3v1h-3zM89 474h2v1h-2zM120 474h2v1h-2zM547 474h1v1h-1zM811 474h1v1h-1zM932 474h1v1h-1zM958 474h1v1h-1zM410 474h1v2h-1zM62 475h1v1h-1zM91 475h1v1h-1zM119 475h1v1h-1zM546 475h1v1h-1zM810 475h1v1h-1zM933 475h1v1h-1zM957 475h1v1h-1zM711 475h1v2h-1zM60 476h2v1h-2zM92 476h2v1h-2zM118 476h1v1h-1zM808 476h2v1h-2zM934 476h1v1h-1zM956 476h1v1h-1zM411 476h1v2h-1zM545 476h1v2h-1zM59 477h1v1h-1zM94 477h1v1h-1zM116 477h2v1h-2zM807 477h1v1h-1zM935 477h1v1h-1zM955 477h1v1h-1zM712 477h1v2h-1zM58 478h1v1h-1zM95 478h1v1h-1zM115 478h1v1h-1zM544 478h1v1h-1zM806 478h1v1h-1zM936 478h2v1h-2zM954 478h1v1h-1zM412 478h1v2h-1zM56 479h2v1h-2zM96 479h2v1h-2zM113 479h2v1h-2zM543 479h1v1h-1zM804 479h2v1h-2zM938 479h1v1h-1zM952 479h2v1h-2zM713 479h1v2h-1zM55 480h1v1h-1zM98 480h1v1h-1zM110 480h3v1h-3zM542 480h1v1h-1zM803 480h1v1h-1zM939 480h3v1h-3zM950 480h2v1h-2zM413 480h1v2h-1zM54 481h1v1h-1zM99 481h3v1h-3zM106 481h4v1h-4zM541 481h1v1h-1zM802 481h1v1h-1zM942 481h8v1h-8zM714 481h1v2h-1zM53 482h1v1h-1zM102 482h4v1h-4zM540 482h1v1h-1zM800 482h2v1h-2zM414 482h1v2h-1zM52 483h1v1h-1zM539 483h1v1h-1zM799 483h1v1h-1zM715 483h1v2h-1zM51 484h1v1h-1zM538 484h1v1h-1zM798 484h1v1h-1zM415 484h1v2h-1zM49 485h2v1h-2zM537 485h1v1h-1zM796 485h2v1h-2zM716 485h1v2h-1zM47 486h2v1h-2zM536 486h1v1h-1zM795 486h1v1h-1zM416 486h1v2h-1zM46 487h1v1h-1zM535 487h1v1h-1zM794 487h1v1h-1zM717 487h1v2h-1zM44 488h2v1h-2zM534 488h1v1h-1zM792 488h2v1h-2zM417 488h1v2h-1zM42 489h2v1h-2zM532 489h2v1h-2zM791 489h1v1h-1zM718 489h1v2h-1zM39 490h3v1h-3zM531 490h1v1h-1zM790 490h1v1h-1zM418 490h1v2h-1zM37 491h2v1h-2zM530 491h1v1h-1zM788 491h2v1h-2zM719 491h1v2h-1zM35 492h2v1h-2zM529 492h1v1h-1zM787 492h1v1h-1zM419 492h1v3h-1zM34 493h1v1h-1zM528 493h1v1h-1zM786 493h1v1h-1zM720 493h1v2h-1zM32 494h2v1h-2zM527 494h1v1h-1zM784 494h2v1h-2zM31 495h1v1h-1zM525 495h2v1h-2zM783 495h1v1h-1zM420 495h1v2h-1zM721 495h1v2h-1zM30 496h1v1h-1zM523 496h2v1h-2zM781 496h2v1h-2zM521 497h2v1h-2zM779 497h2v1h-2zM29 497h1v2h-1zM421 497h1v2h-1zM722 497h1v2h-1zM494 498h12v1h-12zM518 498h3v1h-3zM778 498h1v1h-1zM28 499h1v1h-1zM490 499h4v1h-4zM506 499h4v1h-4zM514 499h4v1h-4zM777 499h1v1h-1zM422 499h1v2h-1zM723 499h1v2h-1zM27 500h1v1h-1zM487 500h3v1h-3zM510 500h4v1h-4zM776 500h1v1h-1zM26 501h1v1h-1zM423 501h1v1h-1zM486 501h1v1h-1zM775 501h1v1h-1zM724 501h1v2h-1zM484 502h2v1h-2zM774 502h1v1h-1zM25 502h1v2h-1zM424 502h1v2h-1zM483 503h1v1h-1zM772 503h2v1h-2zM725 503h1v2h-1zM24 504h1v1h-1zM482 504h1v1h-1zM771 504h1v1h-1zM425 504h1v2h-1zM23 505h1v1h-1zM480 505h2v1h-2zM770 505h1v1h-1zM726 505h1v2h-1zM479 506h1v1h-1zM22 506h1v2h-1zM426 506h1v2h-1zM769 506h1v2h-1zM478 507h1v1h-1zM727 507h1v2h-1zM21 508h1v1h-1zM427 508h1v1h-1zM476 508h2v1h-2zM768 508h1v1h-1zM428 509h1v1h-1zM475 509h1v1h-1zM767 509h1v1h-1zM20 509h1v2h-1zM728 509h1v2h-1zM474 510h1v1h-1zM766 510h1v1h-1zM429 510h1v2h-1zM19 511h1v1h-1zM473 511h1v1h-1zM729 511h1v2h-1zM765 511h1v2h-1zM18 512h1v1h-1zM430 512h1v1h-1zM472 512h1v1h-1zM431 513h1v1h-1zM471 513h1v1h-1zM764 513h1v1h-1zM17 513h1v2h-1zM730 513h1v2h-1zM432 514h1v1h-1zM470 514h1v1h-1zM763 514h1v1h-1zM16 515h1v1h-1zM433 515h1v1h-1zM469 515h1v1h-1zM731 515h1v1h-1zM762 515h1v1h-1zM15 516h1v1h-1zM434 516h1v1h-1zM468 516h1v1h-1zM761 516h1v1h-1zM732 516h1v2h-1zM435 517h1v1h-1zM467 517h1v1h-1zM760 517h1v1h-1zM14 517h1v2h-1zM436 518h2v1h-2zM466 518h1v1h-1zM733 518h1v1h-1zM759 518h1v1h-1zM13 519h1v1h-1zM438 519h1v1h-1zM464 519h2v1h-2zM758 519h1v1h-1zM734 519h1v2h-1zM439 520h2v1h-2zM463 520h1v1h-1zM757 520h1v1h-1zM12 520h1v2h-1zM441 521h2v1h-2zM461 521h2v1h-2zM735 521h1v1h-1zM756 521h1v1h-1zM11 522h1v1h-1zM443 522h2v1h-2zM459 522h2v1h-2zM736 522h1v1h-1zM755 522h1v1h-1zM445 523h2v1h-2zM457 523h2v1h-2zM754 523h1v1h-1zM10 523h1v2h-1zM737 523h1v2h-1zM447 524h3v1h-3zM454 524h3v1h-3zM752 524h2v1h-2zM9 525h1v1h-1zM450 525h4v1h-4zM738 525h1v1h-1zM751 525h1v1h-1zM739 526h2v1h-2zM749 526h2v1h-2zM8 526h1v2h-1zM741 527h2v1h-2zM746 527h3v1h-3zM7 528h1v1h-1zM743 528h3v1h-3zM6 529h1v2h-1zM5 531h1v2h-1zM4 533h1v2h-1zM3 535h1v1h-1z" fill="#000"/>
</g>
<rect x="2" y="2" width="1006" height="1" fill="#000"/>
<rect x="2" y="2" width="1" height="364" fill="#000"/>
<rect x="2" y="365" width="1006" height="1" fill="#000"/>
<rect x="2" y="367" width="1006" height="1" fill="#000"/>
<rect x="2" y="367" width="1" height="181" fill="#000"/>
<rect x="2" y="547" width="1007" height="1" fill="#000"/>
<rect x="1007" y="2" width="1" height="546" fill="#000"/>
<rect x="1008" y="32" width="2" height="1" fill="#000"/>
<rect x="1008" y="65" width="2" height="1" fill="#000"/>
<rect x="1008" y="98" width="2" height="1" fill="#000"/>
<rect x="1008" y="131" width="2" height="1" fill="#000"/>
<rect x="1008" y="164" width="2" height="1" fill="#000"/>
<rect x="1008" y="197" width="2" height="1" fill="#000"/>
<rect x="1008" y="230" width="2" height="1" fill="#000"/>
<rect x="1008" y="263" width="2" height="1" fill="#000"/>
<rect x="1008" y="296" width="2" height="1" fill="#000"/>
<rect x="1008" y="329" width="2" height="1" fill="#000"/>
<rect x="1008" y="362" width="2" height="1" fill="#000"/>
<rect x="1008" y="369" width="1" height="1" fill="#000"/>
<rect x="1008" y="484" width="1" height="1" fill="#000"/>
<rect x="1008" y="546" width="1" height="1" fill="#000"/>
<rect x="3" y="548" width="1" height="3" fill="#000"/>
<rect x="67" y="548" width="1" height="3" fill="#000"/>
<rect x="131" y="548" width="1" height="3" fill="#000"/>
<rect x="195" y="548" width="1" height="3" fill="#000"/>
<rect x="259" y="548" width="1" height="3" fill="#000"/>
<rect x="323" y="548" width="1" height="3" fill="#000"/>
<rect x="387" y="548" width="1" height="3" fill="#000"/>
<rect x="451" y="548" width="1" height="3" fill="#000"/>
<rect x="515" y="548" width="1" height="3" fill="#000"/>
<rect x="579" y="548" width="1" height="3" fill="#000"/>
<rect x="643" y="548" width="1" height="3" fill="#000"/>
<rect x="707" y="548" width="1" height="3" fill="#000"/>
<rect x="771" y="548" width="1" height="3" fill="#000"/>
<rect x="835" y="548" width="1" height="3" fill="#000"/>
<rect x="899" y="548" width="1" height="3" fill="#000"/>
<rect x="963" y="548" width="1" height="3" fill="#000"/>
<rect x="1009" y="77" width="41" height="11" fill="#000"/>
<rect x="1008" y="82" width="1" height="1" fill="#c0c0c0"/>
</svg>
<div class="t" style="left:1013px;top:28.0px;color:#000;letter-spacing:-0.3px;">17122.5</div><div class="t" style="left:1013px;top:61.0px;color:#000;letter-spacing:-0.3px;">16908.0</div><div class="t" style="left:1013px;top:94.0px;color:#000;letter-spacing:-0.3px;">16687.0</div><div class="t" style="left:1013px;top:127.0px;color:#000;letter-spacing:-0.3px;">16466.0</div><div class="t" style="left:1013px;top:160.0px;color:#000;letter-spacing:-0.3px;">16251.5</div><div class="t" style="left:1013px;top:193.0px;color:#000;letter-spacing:-0.3px;">16030.5</div><div class="t" style="left:1013px;top:226.0px;color:#000;letter-spacing:-0.3px;">15809.5</div><div class="t" style="left:1013px;top:259.0px;color:#000;letter-spacing:-0.3px;">15595.0</div><div class="t" style="left:1013px;top:292.0px;color:#000;letter-spacing:-0.3px;">15374.0</div><div class="t" style="left:1013px;top:325.0px;color:#000;letter-spacing:-0.3px;">15153.0</div><div class="t" style="left:1013px;top:358.0px;color:#000;letter-spacing:-0.3px;">14938.5</div><div class="t" style="left:1013px;top:79.0px;color:#fff;letter-spacing:-0.3px;">16793.7</div><div class="t" style="left:1011px;top:369.5px;color:#000;">176.77</div><div class="t" style="left:1011px;top:480.0px;color:#000;">0.00</div><div class="t" style="left:1011px;top:536.0px;color:#000;">-94.99</div><div class="t" style="left:2px;top:551.5px;color:#000;">28 Sep 2020</div><div class="t" style="left:66px;top:551.5px;color:#000;">2 Oct 04:00</div><div class="t" style="left:130px;top:551.5px;color:#000;">7 Oct 08:00</div><div class="t" style="left:194px;top:551.5px;color:#000;">12 Oct 12:00</div><div class="t" style="left:258px;top:551.5px;color:#000;">15 Oct 12:00</div><div class="t" style="left:322px;top:551.5px;color:#000;">20 Oct 16:00</div><div class="t" style="left:386px;top:551.5px;color:#000;">23 Oct 20:00</div><div class="t" style="left:450px;top:551.5px;color:#000;">28 Oct 20:00</div><div class="t" style="left:514px;top:551.5px;color:#000;">2 Nov 20:00</div><div class="t" style="left:578px;top:551.5px;color:#000;">5 Nov 16:00</div><div class="t" style="left:642px;top:551.5px;color:#000;">10 Nov 08:00</div><div class="t" style="left:706px;top:551.5px;color:#000;">13 Nov 00:00</div><div class="t" style="left:770px;top:551.5px;color:#000;">17 Nov 16:00</div><div class="t" style="left:834px;top:551.5px;color:#000;">20 Nov 08:00</div><div class="t" style="left:898px;top:551.5px;color:#000;">25 Nov 00:00</div><div class="t" style="left:962px;top:551.5px;color:#000;">27 Nov 16:00</div><div class="t" id="t0" style="left:7.20px;top:5.5px;letter-spacing:-0.250px">XU,H4</div><div class="t" id="t1" style="left:40.00px;top:5.5px;letter-spacing:-0.350px">16745.9</div><div class="t" id="t2" style="left:76.10px;top:5.5px;letter-spacing:-0.350px">16804.8</div><div class="t" id="t3" style="left:112.20px;top:5.5px;letter-spacing:-0.350px">16695.8</div><div class="t" id="t4" style="left:148.20px;top:5.5px;letter-spacing:-0.350px">16793.7</div><div class="t" id="o0" style="left:9.90px;top:118.5px;letter-spacing:-0.470px">#41528571</div><div class="t" id="o1" style="left:58.60px;top:118.5px;letter-spacing:-0.150px">buy</div><div class="t" id="o2" style="left:77.90px;top:118.5px;letter-spacing:-0.200px">8.20</div><div class="t" id="m0" style="left:6.80px;top:371.5px;letter-spacing:-0.100px">MACD(12,26,9)</div><div class="t" id="m1" style="left:76.00px;top:371.5px;letter-spacing:-0.150px">54.32</div><div class="t" id="m2" style="left:102.00px;top:371.5px;letter-spacing:-0.150px">79.35</div><div class="t" id="m3" style="left:130.90px;top:371.5px;letter-spacing:0.250px">-&gt;MA(1)</div><div class="t" id="m4" style="left:170.00px;top:371.5px;letter-spacing:-0.150px">54.32</div>
</body></html>
